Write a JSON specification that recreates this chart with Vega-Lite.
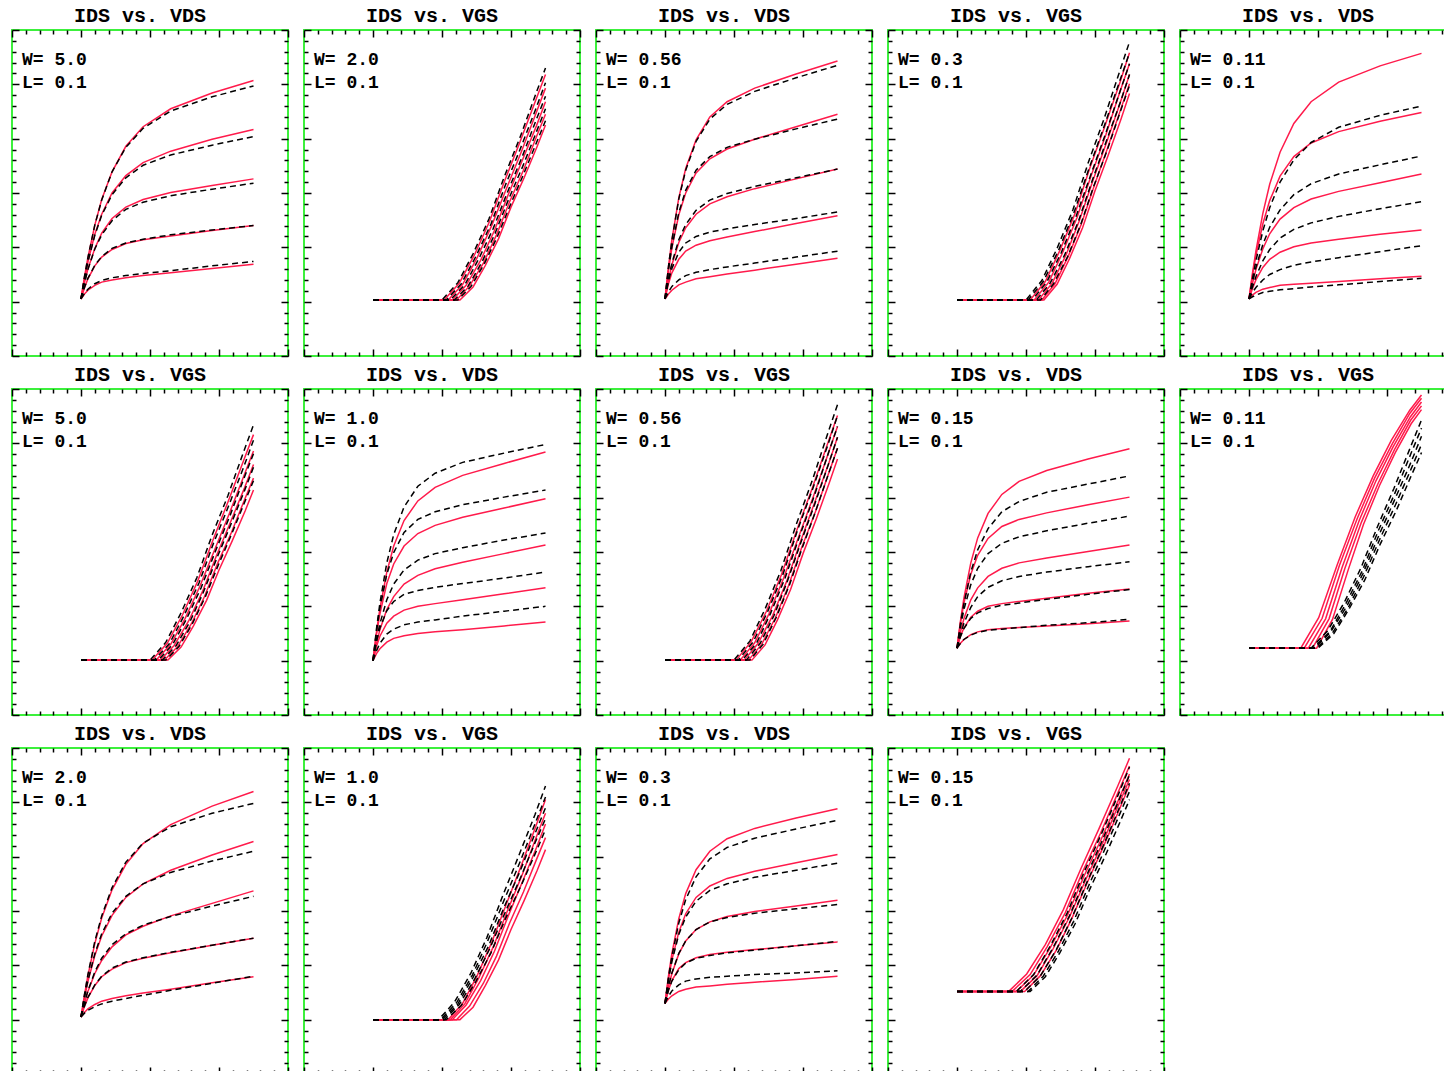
{
"$schema": "https://vega.github.io/schema/vega-lite/v6.json",
"padding": {"left": 10, "top": 5, "right": 0, "bottom": 0},
"background": "#ffffff",
"columns": 5,
"spacing": {"row": 6, "column": 12},
"config": {
 "view": {"continuousWidth": 276, "continuousHeight": 326, "stroke": "#3cf03c", "strokeWidth": 2},
 "axis": {"labels": false, "domain": false, "grid": false, "tickColor": "#000000", "tickWidth": 1.5},
 "title": {"font": "Liberation Mono", "fontSize": 20, "fontWeight": "bold", "color": "#000000", "baseline": "alphabetic", "offset": 3, "dx": -10},
 "text": {"font": "Liberation Mono", "fontSize": 18, "fontWeight": "bold", "align": "left", "baseline": "alphabetic", "color": "#000000"}
},
"datasets": {
"p1": [
{"c":1,"x":0,"s":0.05,"m":0.05},{"c":1,"x":0.05,"s":0.45,"m":0.46},{"c":1,"x":0.1,"s":0.81,"m":0.81},{"c":1,"x":0.2,"s":1.41,"m":1.41},{"c":1,"x":0.3,"s":1.88,"m":1.87},{"c":1,"x":0.45,"s":2.39,"m":2.39},{"c":1,"x":0.65,"s":2.86,"m":2.84},{"c":1,"x":0.9,"s":3.22,"m":3.19},{"c":1,"x":1.3,"s":3.55,"m":3.51},{"c":1,"x":1.9,"s":3.84,"m":3.77},{"c":1,"x":2.5,"s":4.07,"m":3.97},
{"c":2,"x":0,"s":0.05,"m":0.05},{"c":2,"x":0.05,"s":0.42,"m":0.41},{"c":2,"x":0.1,"s":0.73,"m":0.73},{"c":2,"x":0.2,"s":1.24,"m":1.22},{"c":2,"x":0.3,"s":1.61,"m":1.59},{"c":2,"x":0.45,"s":2.0,"m":1.97},{"c":2,"x":0.65,"s":2.32,"m":2.28},{"c":2,"x":0.9,"s":2.56,"m":2.51},{"c":2,"x":1.3,"s":2.77,"m":2.7},{"c":2,"x":1.9,"s":2.99,"m":2.88},{"c":2,"x":2.5,"s":3.17,"m":3.04},
{"c":3,"x":0,"s":0.05,"m":0.05},{"c":3,"x":0.05,"s":0.35,"m":0.34},{"c":3,"x":0.1,"s":0.6,"m":0.59},{"c":3,"x":0.2,"s":0.98,"m":0.97},{"c":3,"x":0.3,"s":1.26,"m":1.23},{"c":3,"x":0.45,"s":1.53,"m":1.49},{"c":3,"x":0.65,"s":1.74,"m":1.7},{"c":3,"x":0.9,"s":1.88,"m":1.83},{"c":3,"x":1.3,"s":2.01,"m":1.95},{"c":3,"x":1.9,"s":2.14,"m":2.07},{"c":3,"x":2.5,"s":2.26,"m":2.18},
{"c":4,"x":0,"s":0.05,"m":0.05},{"c":4,"x":0.05,"s":0.25,"m":0.26},{"c":4,"x":0.1,"s":0.42,"m":0.43},{"c":4,"x":0.2,"s":0.66,"m":0.67},{"c":4,"x":0.3,"s":0.82,"m":0.83},{"c":4,"x":0.45,"s":0.96,"m":0.98},{"c":4,"x":0.65,"s":1.07,"m":1.08},{"c":4,"x":0.9,"s":1.14,"m":1.15},{"c":4,"x":1.3,"s":1.21,"m":1.23},{"c":4,"x":1.9,"s":1.31,"m":1.32},{"c":4,"x":2.5,"s":1.4,"m":1.4},
{"c":5,"x":0,"s":0.05,"m":0.05},{"c":5,"x":0.05,"s":0.14,"m":0.15},{"c":5,"x":0.1,"s":0.21,"m":0.23},{"c":5,"x":0.2,"s":0.3,"m":0.33},{"c":5,"x":0.3,"s":0.36,"m":0.39},{"c":5,"x":0.45,"s":0.4,"m":0.44},{"c":5,"x":0.65,"s":0.44,"m":0.48},{"c":5,"x":0.9,"s":0.48,"m":0.52},{"c":5,"x":1.3,"s":0.53,"m":0.57},{"c":5,"x":1.9,"s":0.61,"m":0.66},{"c":5,"x":2.5,"s":0.69,"m":0.74}
],
"p3": [
{"c":1,"x":0,"s":0.05,"m":0.05},{"c":1,"x":0.05,"s":0.64,"m":0.64},{"c":1,"x":0.1,"s":1.14,"m":1.13},{"c":1,"x":0.2,"s":1.91,"m":1.89},{"c":1,"x":0.3,"s":2.45,"m":2.42},{"c":1,"x":0.45,"s":2.98,"m":2.95},{"c":1,"x":0.65,"s":3.4,"m":3.36},{"c":1,"x":0.9,"s":3.68,"m":3.63},{"c":1,"x":1.3,"s":3.93,"m":3.87},{"c":1,"x":1.9,"s":4.19,"m":4.12},{"c":1,"x":2.5,"s":4.43,"m":4.35},
{"c":2,"x":0,"s":0.05,"m":0.05},{"c":2,"x":0.05,"s":0.57,"m":0.59},{"c":2,"x":0.1,"s":0.99,"m":1.01},{"c":2,"x":0.2,"s":1.6,"m":1.64},{"c":2,"x":0.3,"s":2.0,"m":2.05},{"c":2,"x":0.45,"s":2.37,"m":2.42},{"c":2,"x":0.65,"s":2.63,"m":2.67},{"c":2,"x":0.9,"s":2.81,"m":2.84},{"c":2,"x":1.3,"s":2.99,"m":2.99},{"c":2,"x":1.9,"s":3.22,"m":3.18},{"c":2,"x":2.5,"s":3.45,"m":3.36},
{"c":3,"x":0,"s":0.05,"m":0.05},{"c":3,"x":0.05,"s":0.4,"m":0.42},{"c":3,"x":0.1,"s":0.68,"m":0.71},{"c":3,"x":0.2,"s":1.09,"m":1.14},{"c":3,"x":0.3,"s":1.36,"m":1.42},{"c":3,"x":0.45,"s":1.61,"m":1.68},{"c":3,"x":0.65,"s":1.8,"m":1.87},{"c":3,"x":0.9,"s":1.93,"m":1.99},{"c":3,"x":1.3,"s":2.08,"m":2.12},{"c":3,"x":1.9,"s":2.26,"m":2.28},{"c":3,"x":2.5,"s":2.44,"m":2.44},
{"c":4,"x":0,"s":0.05,"m":0.05},{"c":4,"x":0.05,"s":0.33,"m":0.38},{"c":4,"x":0.1,"s":0.53,"m":0.61},{"c":4,"x":0.2,"s":0.78,"m":0.91},{"c":4,"x":0.3,"s":0.93,"m":1.08},{"c":4,"x":0.45,"s":1.04,"m":1.2},{"c":4,"x":0.65,"s":1.12,"m":1.28},{"c":4,"x":0.9,"s":1.19,"m":1.34},{"c":4,"x":1.3,"s":1.29,"m":1.42},{"c":4,"x":1.9,"s":1.44,"m":1.53},{"c":4,"x":2.5,"s":1.58,"m":1.65},
{"c":5,"x":0,"s":0.05,"m":0.05},{"c":5,"x":0.05,"s":0.14,"m":0.18},{"c":5,"x":0.1,"s":0.21,"m":0.28},{"c":5,"x":0.2,"s":0.31,"m":0.4},{"c":5,"x":0.3,"s":0.36,"m":0.48},{"c":5,"x":0.45,"s":0.42,"m":0.54},{"c":5,"x":0.65,"s":0.46,"m":0.59},{"c":5,"x":0.9,"s":0.51,"m":0.64},{"c":5,"x":1.3,"s":0.58,"m":0.71},{"c":5,"x":1.9,"s":0.69,"m":0.82},{"c":5,"x":2.5,"s":0.8,"m":0.93}
],
"p5": [
{"c":1,"x":0,"s":0.05,"m":0.05},{"c":1,"x":0.05,"s":0.52,"m":0.42},{"c":1,"x":0.1,"s":0.93,"m":0.75},{"c":1,"x":0.2,"s":1.62,"m":1.3},{"c":1,"x":0.3,"s":2.16,"m":1.73},{"c":1,"x":0.45,"s":2.75,"m":2.2},{"c":1,"x":0.65,"s":3.28,"m":2.61},{"c":1,"x":0.9,"s":3.68,"m":2.93},{"c":1,"x":1.3,"s":4.04,"m":3.21},{"c":1,"x":1.9,"s":4.34,"m":3.43},{"c":1,"x":2.5,"s":4.57,"m":3.6},
{"c":2,"x":0,"s":0.05,"m":0.05},{"c":2,"x":0.05,"s":0.48,"m":0.36},{"c":2,"x":0.1,"s":0.85,"m":0.63},{"c":2,"x":0.2,"s":1.43,"m":1.05},{"c":2,"x":0.3,"s":1.86,"m":1.37},{"c":2,"x":0.45,"s":2.31,"m":1.69},{"c":2,"x":0.65,"s":2.67,"m":1.97},{"c":2,"x":0.9,"s":2.92,"m":2.17},{"c":2,"x":1.3,"s":3.13,"m":2.35},{"c":2,"x":1.9,"s":3.32,"m":2.52},{"c":2,"x":2.5,"s":3.48,"m":2.68},
{"c":3,"x":0,"s":0.05,"m":0.05},{"c":3,"x":0.05,"s":0.34,"m":0.27},{"c":3,"x":0.1,"s":0.59,"m":0.46},{"c":3,"x":0.2,"s":0.97,"m":0.75},{"c":3,"x":0.3,"s":1.25,"m":0.96},{"c":3,"x":0.45,"s":1.52,"m":1.17},{"c":3,"x":0.65,"s":1.73,"m":1.33},{"c":3,"x":0.9,"s":1.89,"m":1.45},{"c":3,"x":1.3,"s":2.03,"m":1.57},{"c":3,"x":1.9,"s":2.19,"m":1.71},{"c":3,"x":2.5,"s":2.35,"m":1.84},
{"c":4,"x":0,"s":0.05,"m":0.05},{"c":4,"x":0.05,"s":0.24,"m":0.17},{"c":4,"x":0.1,"s":0.4,"m":0.26},{"c":4,"x":0.2,"s":0.63,"m":0.4},{"c":4,"x":0.3,"s":0.78,"m":0.5},{"c":4,"x":0.45,"s":0.91,"m":0.59},{"c":4,"x":0.65,"s":1.01,"m":0.67},{"c":4,"x":0.9,"s":1.08,"m":0.73},{"c":4,"x":1.3,"s":1.15,"m":0.81},{"c":4,"x":1.9,"s":1.24,"m":0.92},{"c":4,"x":2.5,"s":1.32,"m":1.03},
{"c":5,"x":0,"s":0.05,"m":0.05},{"c":5,"x":0.05,"s":0.12,"m":0.09},{"c":5,"x":0.1,"s":0.17,"m":0.12},{"c":5,"x":0.2,"s":0.23,"m":0.17},{"c":5,"x":0.3,"s":0.26,"m":0.19},{"c":5,"x":0.45,"s":0.3,"m":0.22},{"c":5,"x":0.65,"s":0.32,"m":0.24},{"c":5,"x":0.9,"s":0.34,"m":0.27},{"c":5,"x":1.3,"s":0.37,"m":0.31},{"c":5,"x":1.9,"s":0.42,"m":0.37},{"c":5,"x":2.5,"s":0.47,"m":0.43}
],
"p7": [
{"c":1,"x":0,"s":0,"m":0},{"c":1,"x":0.05,"s":0.52,"m":0.58},{"c":1,"x":0.1,"s":0.96,"m":1.06},{"c":1,"x":0.2,"s":1.63,"m":1.8},{"c":1,"x":0.3,"s":2.11,"m":2.32},{"c":1,"x":0.45,"s":2.58,"m":2.83},{"c":1,"x":0.65,"s":2.94,"m":3.21},{"c":1,"x":0.9,"s":3.19,"m":3.45},{"c":1,"x":1.3,"s":3.41,"m":3.65},{"c":1,"x":1.9,"s":3.63,"m":3.82},{"c":1,"x":2.5,"s":3.84,"m":3.98},
{"c":2,"x":0,"s":0,"m":0},{"c":2,"x":0.05,"s":0.48,"m":0.54},{"c":2,"x":0.1,"s":0.86,"m":0.97},{"c":2,"x":0.2,"s":1.42,"m":1.59},{"c":2,"x":0.3,"s":1.78,"m":1.99},{"c":2,"x":0.45,"s":2.11,"m":2.36},{"c":2,"x":0.65,"s":2.34,"m":2.6},{"c":2,"x":0.9,"s":2.49,"m":2.74},{"c":2,"x":1.3,"s":2.64,"m":2.87},{"c":2,"x":1.9,"s":2.81,"m":3.01},{"c":2,"x":2.5,"s":2.98,"m":3.14},
{"c":3,"x":0,"s":0,"m":0},{"c":3,"x":0.05,"s":0.31,"m":0.38},{"c":3,"x":0.1,"s":0.57,"m":0.68},{"c":3,"x":0.2,"s":0.94,"m":1.12},{"c":3,"x":0.3,"s":1.18,"m":1.41},{"c":3,"x":0.45,"s":1.41,"m":1.67},{"c":3,"x":0.65,"s":1.57,"m":1.85},{"c":3,"x":0.9,"s":1.69,"m":1.97},{"c":3,"x":1.3,"s":1.81,"m":2.08},{"c":3,"x":1.9,"s":1.97,"m":2.22},{"c":3,"x":2.5,"s":2.13,"m":2.35},
{"c":4,"x":0,"s":0,"m":0},{"c":4,"x":0.05,"s":0.26,"m":0.35},{"c":4,"x":0.1,"s":0.45,"m":0.6},{"c":4,"x":0.2,"s":0.69,"m":0.92},{"c":4,"x":0.3,"s":0.82,"m":1.09},{"c":4,"x":0.45,"s":0.93,"m":1.22},{"c":4,"x":0.65,"s":1.0,"m":1.29},{"c":4,"x":0.9,"s":1.05,"m":1.35},{"c":4,"x":1.3,"s":1.12,"m":1.42},{"c":4,"x":1.9,"s":1.23,"m":1.52},{"c":4,"x":2.5,"s":1.34,"m":1.63},
{"c":5,"x":0,"s":0,"m":0},{"c":5,"x":0.05,"s":0.13,"m":0.18},{"c":5,"x":0.1,"s":0.22,"m":0.32},{"c":5,"x":0.2,"s":0.34,"m":0.49},{"c":5,"x":0.3,"s":0.41,"m":0.58},{"c":5,"x":0.45,"s":0.46,"m":0.66},{"c":5,"x":0.65,"s":0.5,"m":0.71},{"c":5,"x":0.9,"s":0.53,"m":0.75},{"c":5,"x":1.3,"s":0.57,"m":0.82},{"c":5,"x":1.9,"s":0.64,"m":0.91},{"c":5,"x":2.5,"s":0.71,"m":1.0}
],
"p9": [
{"c":1,"x":0,"s":0.23,"m":0.23},{"c":1,"x":0.05,"s":0.73,"m":0.68},{"c":1,"x":0.1,"s":1.15,"m":1.05},{"c":1,"x":0.2,"s":1.8,"m":1.63},{"c":1,"x":0.3,"s":2.26,"m":2.04},{"c":1,"x":0.45,"s":2.71,"m":2.43},{"c":1,"x":0.65,"s":3.06,"m":2.74},{"c":1,"x":0.9,"s":3.3,"m":2.93},{"c":1,"x":1.3,"s":3.5,"m":3.1},{"c":1,"x":1.9,"s":3.71,"m":3.25},{"c":1,"x":2.5,"s":3.9,"m":3.4},
{"c":2,"x":0,"s":0.23,"m":0.23},{"c":2,"x":0.05,"s":0.69,"m":0.62},{"c":2,"x":0.1,"s":1.06,"m":0.94},{"c":2,"x":0.2,"s":1.59,"m":1.4},{"c":2,"x":0.3,"s":1.94,"m":1.7},{"c":2,"x":0.45,"s":2.25,"m":1.97},{"c":2,"x":0.65,"s":2.47,"m":2.16},{"c":2,"x":0.9,"s":2.6,"m":2.28},{"c":2,"x":1.3,"s":2.72,"m":2.39},{"c":2,"x":1.9,"s":2.87,"m":2.53},{"c":2,"x":2.5,"s":3.01,"m":2.66},
{"c":3,"x":0,"s":0.23,"m":0.23},{"c":3,"x":0.05,"s":0.53,"m":0.48},{"c":3,"x":0.1,"s":0.77,"m":0.69},{"c":3,"x":0.2,"s":1.12,"m":0.98},{"c":3,"x":0.3,"s":1.34,"m":1.18},{"c":3,"x":0.45,"s":1.55,"m":1.35},{"c":3,"x":0.65,"s":1.7,"m":1.47},{"c":3,"x":0.9,"s":1.8,"m":1.55},{"c":3,"x":1.3,"s":1.89,"m":1.63},{"c":3,"x":1.9,"s":2.01,"m":1.73},{"c":3,"x":2.5,"s":2.13,"m":1.82},
{"c":4,"x":0,"s":0.23,"m":0.23},{"c":4,"x":0.05,"s":0.45,"m":0.44},{"c":4,"x":0.1,"s":0.6,"m":0.59},{"c":4,"x":0.2,"s":0.8,"m":0.78},{"c":4,"x":0.3,"s":0.91,"m":0.88},{"c":4,"x":0.45,"s":1.0,"m":0.96},{"c":4,"x":0.65,"s":1.05,"m":1.02},{"c":4,"x":0.9,"s":1.09,"m":1.06},{"c":4,"x":1.3,"s":1.15,"m":1.13},{"c":4,"x":1.9,"s":1.24,"m":1.22},{"c":4,"x":2.5,"s":1.32,"m":1.31},
{"c":5,"x":0,"s":0.23,"m":0.23},{"c":5,"x":0.05,"s":0.32,"m":0.32},{"c":5,"x":0.1,"s":0.39,"m":0.39},{"c":5,"x":0.2,"s":0.48,"m":0.47},{"c":5,"x":0.3,"s":0.53,"m":0.52},{"c":5,"x":0.45,"s":0.57,"m":0.56},{"c":5,"x":0.65,"s":0.59,"m":0.58},{"c":5,"x":0.9,"s":0.61,"m":0.61},{"c":5,"x":1.3,"s":0.64,"m":0.65},{"c":5,"x":1.9,"s":0.68,"m":0.7},{"c":5,"x":2.5,"s":0.73,"m":0.76}
],
"p11": [
{"c":1,"x":0,"s":0.05,"m":0.05},{"c":1,"x":0.05,"s":0.45,"m":0.46},{"c":1,"x":0.1,"s":0.81,"m":0.83},{"c":1,"x":0.2,"s":1.4,"m":1.44},{"c":1,"x":0.3,"s":1.87,"m":1.91},{"c":1,"x":0.45,"s":2.39,"m":2.43},{"c":1,"x":0.65,"s":2.86,"m":2.9},{"c":1,"x":0.9,"s":3.24,"m":3.25},{"c":1,"x":1.3,"s":3.59,"m":3.55},{"c":1,"x":1.9,"s":3.93,"m":3.8},{"c":1,"x":2.5,"s":4.2,"m":3.98},
{"c":2,"x":0,"s":0.05,"m":0.05},{"c":2,"x":0.05,"s":0.4,"m":0.41},{"c":2,"x":0.1,"s":0.7,"m":0.72},{"c":2,"x":0.2,"s":1.18,"m":1.21},{"c":2,"x":0.3,"s":1.54,"m":1.58},{"c":2,"x":0.45,"s":1.92,"m":1.96},{"c":2,"x":0.65,"s":2.25,"m":2.27},{"c":2,"x":0.9,"s":2.5,"m":2.5},{"c":2,"x":1.3,"s":2.75,"m":2.71},{"c":2,"x":1.9,"s":3.03,"m":2.92},{"c":2,"x":2.5,"s":3.28,"m":3.1},
{"c":3,"x":0,"s":0.05,"m":0.05},{"c":3,"x":0.05,"s":0.3,"m":0.31},{"c":3,"x":0.1,"s":0.52,"m":0.53},{"c":3,"x":0.2,"s":0.85,"m":0.88},{"c":3,"x":0.3,"s":1.09,"m":1.13},{"c":3,"x":0.45,"s":1.34,"m":1.38},{"c":3,"x":0.65,"s":1.56,"m":1.58},{"c":3,"x":0.9,"s":1.72,"m":1.74},{"c":3,"x":1.3,"s":1.91,"m":1.9},{"c":3,"x":1.9,"s":2.14,"m":2.09},{"c":3,"x":2.5,"s":2.37,"m":2.27},
{"c":4,"x":0,"s":0.05,"m":0.05},{"c":4,"x":0.05,"s":0.24,"m":0.25},{"c":4,"x":0.1,"s":0.4,"m":0.41},{"c":4,"x":0.2,"s":0.63,"m":0.64},{"c":4,"x":0.3,"s":0.79,"m":0.8},{"c":4,"x":0.45,"s":0.93,"m":0.95},{"c":4,"x":0.65,"s":1.05,"m":1.06},{"c":4,"x":0.9,"s":1.13,"m":1.14},{"c":4,"x":1.3,"s":1.23,"m":1.24},{"c":4,"x":1.9,"s":1.37,"m":1.37},{"c":4,"x":2.5,"s":1.5,"m":1.5},
{"c":5,"x":0,"s":0.05,"m":0.05},{"c":5,"x":0.05,"s":0.13,"m":0.12},{"c":5,"x":0.1,"s":0.2,"m":0.17},{"c":5,"x":0.2,"s":0.28,"m":0.24},{"c":5,"x":0.3,"s":0.34,"m":0.29},{"c":5,"x":0.45,"s":0.39,"m":0.34},{"c":5,"x":0.65,"s":0.44,"m":0.39},{"c":5,"x":0.9,"s":0.49,"m":0.45},{"c":5,"x":1.3,"s":0.56,"m":0.54},{"c":5,"x":1.9,"s":0.68,"m":0.67},{"c":5,"x":2.5,"s":0.79,"m":0.8}
],
"p13": [
{"c":1,"x":0,"s":0.3,"m":0.3},{"c":1,"x":0.05,"s":0.8,"m":0.78},{"c":1,"x":0.1,"s":1.22,"m":1.17},{"c":1,"x":0.2,"s":1.86,"m":1.78},{"c":1,"x":0.3,"s":2.32,"m":2.21},{"c":1,"x":0.45,"s":2.76,"m":2.63},{"c":1,"x":0.65,"s":3.1,"m":2.96},{"c":1,"x":0.9,"s":3.33,"m":3.17},{"c":1,"x":1.3,"s":3.52,"m":3.34},{"c":1,"x":1.9,"s":3.71,"m":3.51},{"c":1,"x":2.5,"s":3.88,"m":3.67},
{"c":2,"x":0,"s":0.3,"m":0.3},{"c":2,"x":0.05,"s":0.74,"m":0.73},{"c":2,"x":0.1,"s":1.1,"m":1.07},{"c":2,"x":0.2,"s":1.61,"m":1.57},{"c":2,"x":0.3,"s":1.95,"m":1.89},{"c":2,"x":0.45,"s":2.25,"m":2.18},{"c":2,"x":0.65,"s":2.46,"m":2.38},{"c":2,"x":0.9,"s":2.6,"m":2.5},{"c":2,"x":1.3,"s":2.73,"m":2.62},{"c":2,"x":1.9,"s":2.89,"m":2.75},{"c":2,"x":2.5,"s":3.04,"m":2.88},
{"c":3,"x":0,"s":0.3,"m":0.3},{"c":3,"x":0.05,"s":0.61,"m":0.61},{"c":3,"x":0.1,"s":0.85,"m":0.86},{"c":3,"x":0.2,"s":1.21,"m":1.22},{"c":3,"x":0.3,"s":1.45,"m":1.45},{"c":3,"x":0.45,"s":1.66,"m":1.66},{"c":3,"x":0.65,"s":1.8,"m":1.8},{"c":3,"x":0.9,"s":1.9,"m":1.88},{"c":3,"x":1.3,"s":1.99,"m":1.96},{"c":3,"x":1.9,"s":2.09,"m":2.04},{"c":3,"x":2.5,"s":2.2,"m":2.12},
{"c":4,"x":0,"s":0.3,"m":0.3},{"c":4,"x":0.05,"s":0.54,"m":0.54},{"c":4,"x":0.1,"s":0.72,"m":0.71},{"c":4,"x":0.2,"s":0.94,"m":0.92},{"c":4,"x":0.3,"s":1.05,"m":1.04},{"c":4,"x":0.45,"s":1.14,"m":1.13},{"c":4,"x":0.65,"s":1.2,"m":1.18},{"c":4,"x":0.9,"s":1.24,"m":1.23},{"c":4,"x":1.3,"s":1.29,"m":1.28},{"c":4,"x":1.9,"s":1.36,"m":1.36},{"c":4,"x":2.5,"s":1.43,"m":1.44},
{"c":5,"x":0,"s":0.3,"m":0.3},{"c":5,"x":0.05,"s":0.38,"m":0.43},{"c":5,"x":0.1,"s":0.44,"m":0.53},{"c":5,"x":0.2,"s":0.52,"m":0.64},{"c":5,"x":0.3,"s":0.56,"m":0.71},{"c":5,"x":0.45,"s":0.6,"m":0.75},{"c":5,"x":0.65,"s":0.62,"m":0.78},{"c":5,"x":0.9,"s":0.65,"m":0.8},{"c":5,"x":1.3,"s":0.69,"m":0.83},{"c":5,"x":1.9,"s":0.74,"m":0.86},{"c":5,"x":2.5,"s":0.8,"m":0.9}
],
"p2": [
{"c":1,"x":0,"s":0.03},{"c":1,"x":1.03,"s":0.03},{"c":1,"x":1.25,"s":0.34},{"c":1,"x":1.47,"s":0.86},{"c":1,"x":1.69,"s":1.48},{"c":1,"x":1.91,"s":2.23},{"c":1,"x":2.13,"s":2.94},{"c":1,"x":2.35,"s":3.68},{"c":1,"x":2.5,"s":4.18},
{"c":2,"x":0,"s":0.03},{"c":2,"x":1.09,"s":0.03},{"c":2,"x":1.3,"s":0.32},{"c":2,"x":1.51,"s":0.81},{"c":2,"x":1.72,"s":1.4},{"c":2,"x":1.94,"s":2.1},{"c":2,"x":2.15,"s":2.76},{"c":2,"x":2.36,"s":3.46},{"c":2,"x":2.5,"s":3.93},
{"c":3,"x":0,"s":0.03},{"c":3,"x":1.15,"s":0.03},{"c":3,"x":1.35,"s":0.3},{"c":3,"x":1.56,"s":0.76},{"c":3,"x":1.76,"s":1.31},{"c":3,"x":1.96,"s":1.97},{"c":3,"x":2.16,"s":2.59},{"c":3,"x":2.37,"s":3.24},{"c":3,"x":2.5,"s":3.68},
{"c":4,"x":0,"s":0.03},{"c":4,"x":1.21,"s":0.03},{"c":4,"x":1.4,"s":0.29},{"c":4,"x":1.6,"s":0.71},{"c":4,"x":1.79,"s":1.23},{"c":4,"x":1.98,"s":1.84},{"c":4,"x":2.18,"s":2.42},{"c":4,"x":2.37,"s":3.04},{"c":4,"x":2.5,"s":3.45},
{"c":5,"x":0,"s":0.03},{"c":5,"x":1.26,"s":0.03},{"c":5,"x":1.45,"s":0.27},{"c":5,"x":1.63,"s":0.67},{"c":5,"x":1.82,"s":1.16},{"c":5,"x":2.0,"s":1.74},{"c":5,"x":2.19,"s":2.28},{"c":5,"x":2.38,"s":2.86},{"c":5,"x":2.5,"s":3.25},
{"c":6,"x":0,"m":0.03},{"c":6,"x":1.0,"m":0.03},{"c":6,"x":1.23,"m":0.35},{"c":6,"x":1.45,"m":0.88},{"c":6,"x":1.68,"m":1.52},{"c":6,"x":1.9,"m":2.29},{"c":6,"x":2.13,"m":3.02},{"c":6,"x":2.35,"m":3.79},{"c":6,"x":2.5,"m":4.3},
{"c":7,"x":0,"m":0.03},{"c":7,"x":1.06,"m":0.03},{"c":7,"x":1.28,"m":0.33},{"c":7,"x":1.49,"m":0.83},{"c":7,"x":1.71,"m":1.43},{"c":7,"x":1.92,"m":2.15},{"c":7,"x":2.14,"m":2.83},{"c":7,"x":2.36,"m":3.55},{"c":7,"x":2.5,"m":4.03},
{"c":8,"x":0,"m":0.03},{"c":8,"x":1.12,"m":0.03},{"c":8,"x":1.33,"m":0.31},{"c":8,"x":1.53,"m":0.78},{"c":8,"x":1.74,"m":1.34},{"c":8,"x":1.95,"m":2.02},{"c":8,"x":2.16,"m":2.66},{"c":8,"x":2.36,"m":3.33},{"c":8,"x":2.5,"m":3.78},
{"c":9,"x":0,"m":0.03},{"c":9,"x":1.18,"m":0.03},{"c":9,"x":1.38,"m":0.29},{"c":9,"x":1.58,"m":0.73},{"c":9,"x":1.77,"m":1.26},{"c":9,"x":1.97,"m":1.9},{"c":9,"x":2.17,"m":2.49},{"c":9,"x":2.37,"m":3.13},{"c":9,"x":2.5,"m":3.55},
{"c":10,"x":0,"m":0.03},{"c":10,"x":1.23,"m":0.03},{"c":10,"x":1.42,"m":0.28},{"c":10,"x":1.61,"m":0.69},{"c":10,"x":1.8,"m":1.19},{"c":10,"x":1.99,"m":1.78},{"c":10,"x":2.18,"m":2.34},{"c":10,"x":2.37,"m":2.93},{"c":10,"x":2.5,"m":3.33}
],
"p4": [
{"c":1,"x":0,"s":0.03},{"c":1,"x":1.06,"s":0.03},{"c":1,"x":1.28,"s":0.37},{"c":1,"x":1.49,"s":0.94},{"c":1,"x":1.71,"s":1.62},{"c":1,"x":1.92,"s":2.44},{"c":1,"x":2.14,"s":3.22},{"c":1,"x":2.36,"s":4.03},{"c":1,"x":2.5,"s":4.58},
{"c":2,"x":0,"s":0.03},{"c":2,"x":1.12,"s":0.03},{"c":2,"x":1.33,"s":0.36},{"c":2,"x":1.53,"s":0.9},{"c":2,"x":1.74,"s":1.55},{"c":2,"x":1.95,"s":2.34},{"c":2,"x":2.16,"s":3.08},{"c":2,"x":2.36,"s":3.86},{"c":2,"x":2.5,"s":4.38},
{"c":3,"x":0,"s":0.03},{"c":3,"x":1.18,"s":0.03},{"c":3,"x":1.38,"s":0.34},{"c":3,"x":1.58,"s":0.86},{"c":3,"x":1.77,"s":1.48},{"c":3,"x":1.97,"s":2.23},{"c":3,"x":2.17,"s":2.94},{"c":3,"x":2.37,"s":3.68},{"c":3,"x":2.5,"s":4.18},
{"c":4,"x":0,"s":0.03},{"c":4,"x":1.23,"s":0.03},{"c":4,"x":1.42,"s":0.33},{"c":4,"x":1.61,"s":0.83},{"c":4,"x":1.8,"s":1.42},{"c":4,"x":1.99,"s":2.14},{"c":4,"x":2.18,"s":2.82},{"c":4,"x":2.37,"s":3.53},{"c":4,"x":2.5,"s":4.01},
{"c":5,"x":0,"s":0.03},{"c":5,"x":1.26,"s":0.03},{"c":5,"x":1.45,"s":0.32},{"c":5,"x":1.63,"s":0.79},{"c":5,"x":1.82,"s":1.36},{"c":5,"x":2.0,"s":2.04},{"c":5,"x":2.19,"s":2.69},{"c":5,"x":2.38,"s":3.37},{"c":5,"x":2.5,"s":3.83},
{"c":6,"x":0,"m":0.03},{"c":6,"x":1.0,"m":0.03},{"c":6,"x":1.23,"m":0.39},{"c":6,"x":1.45,"m":0.98},{"c":6,"x":1.68,"m":1.69},{"c":6,"x":1.9,"m":2.55},{"c":6,"x":2.13,"m":3.36},{"c":6,"x":2.35,"m":4.21},{"c":6,"x":2.5,"m":4.78},
{"c":7,"x":0,"m":0.03},{"c":7,"x":1.03,"m":0.03},{"c":7,"x":1.25,"m":0.37},{"c":7,"x":1.47,"m":0.94},{"c":7,"x":1.69,"m":1.62},{"c":7,"x":1.91,"m":2.44},{"c":7,"x":2.13,"m":3.22},{"c":7,"x":2.35,"m":4.03},{"c":7,"x":2.5,"m":4.58},
{"c":8,"x":0,"m":0.03},{"c":8,"x":1.09,"m":0.03},{"c":8,"x":1.3,"m":0.36},{"c":8,"x":1.51,"m":0.9},{"c":8,"x":1.72,"m":1.55},{"c":8,"x":1.94,"m":2.34},{"c":8,"x":2.15,"m":3.08},{"c":8,"x":2.36,"m":3.86},{"c":8,"x":2.5,"m":4.38},
{"c":9,"x":0,"m":0.03},{"c":9,"x":1.15,"m":0.03},{"c":9,"x":1.35,"m":0.34},{"c":9,"x":1.56,"m":0.86},{"c":9,"x":1.76,"m":1.48},{"c":9,"x":1.96,"m":2.23},{"c":9,"x":2.16,"m":2.94},{"c":9,"x":2.37,"m":3.68},{"c":9,"x":2.5,"m":4.18},
{"c":10,"x":0,"m":0.03},{"c":10,"x":1.21,"m":0.03},{"c":10,"x":1.4,"m":0.33},{"c":10,"x":1.6,"m":0.82},{"c":10,"x":1.79,"m":1.41},{"c":10,"x":1.98,"m":2.12},{"c":10,"x":2.18,"m":2.8},{"c":10,"x":2.37,"m":3.51},{"c":10,"x":2.5,"m":3.98}
],
"p6": [
{"c":1,"x":0,"s":0.01},{"c":1,"x":1.03,"s":0.01},{"c":1,"x":1.25,"s":0.32},{"c":1,"x":1.47,"s":0.84},{"c":1,"x":1.69,"s":1.46},{"c":1,"x":1.91,"s":2.21},{"c":1,"x":2.13,"s":2.92},{"c":1,"x":2.35,"s":3.66},{"c":1,"x":2.5,"s":4.16},
{"c":2,"x":0,"s":0.01},{"c":2,"x":1.09,"s":0.01},{"c":2,"x":1.3,"s":0.3},{"c":2,"x":1.51,"s":0.78},{"c":2,"x":1.72,"s":1.36},{"c":2,"x":1.94,"s":2.05},{"c":2,"x":2.15,"s":2.71},{"c":2,"x":2.36,"s":3.4},{"c":2,"x":2.5,"s":3.86},
{"c":3,"x":0,"s":0.01},{"c":3,"x":1.15,"s":0.01},{"c":3,"x":1.35,"s":0.28},{"c":3,"x":1.56,"s":0.73},{"c":3,"x":1.76,"s":1.27},{"c":3,"x":1.96,"s":1.92},{"c":3,"x":2.16,"s":2.53},{"c":3,"x":2.37,"s":3.18},{"c":3,"x":2.5,"s":3.61},
{"c":4,"x":0,"s":0.01},{"c":4,"x":1.21,"s":0.01},{"c":4,"x":1.4,"s":0.26},{"c":4,"x":1.6,"s":0.68},{"c":4,"x":1.79,"s":1.18},{"c":4,"x":1.98,"s":1.79},{"c":4,"x":2.18,"s":2.36},{"c":4,"x":2.37,"s":2.96},{"c":4,"x":2.5,"s":3.36},
{"c":5,"x":0,"s":0.01},{"c":5,"x":1.26,"s":0.01},{"c":5,"x":1.45,"s":0.25},{"c":5,"x":1.63,"s":0.64},{"c":5,"x":1.82,"s":1.11},{"c":5,"x":2.0,"s":1.67},{"c":5,"x":2.19,"s":2.2},{"c":5,"x":2.38,"s":2.76},{"c":5,"x":2.5,"s":3.14},
{"c":6,"x":0,"m":0.01},{"c":6,"x":1.0,"m":0.01},{"c":6,"x":1.23,"m":0.34},{"c":6,"x":1.45,"m":0.88},{"c":6,"x":1.68,"m":1.53},{"c":6,"x":1.9,"m":2.31},{"c":6,"x":2.13,"m":3.04},{"c":6,"x":2.35,"m":3.82},{"c":6,"x":2.5,"m":4.34},
{"c":7,"x":0,"m":0.01},{"c":7,"x":1.06,"m":0.01},{"c":7,"x":1.28,"m":0.31},{"c":7,"x":1.49,"m":0.82},{"c":7,"x":1.71,"m":1.43},{"c":7,"x":1.92,"m":2.16},{"c":7,"x":2.14,"m":2.85},{"c":7,"x":2.36,"m":3.57},{"c":7,"x":2.5,"m":4.06},
{"c":8,"x":0,"m":0.01},{"c":8,"x":1.12,"m":0.01},{"c":8,"x":1.33,"m":0.3},{"c":8,"x":1.53,"m":0.77},{"c":8,"x":1.74,"m":1.34},{"c":8,"x":1.95,"m":2.02},{"c":8,"x":2.16,"m":2.67},{"c":8,"x":2.36,"m":3.35},{"c":8,"x":2.5,"m":3.81},
{"c":9,"x":0,"m":0.01},{"c":9,"x":1.18,"m":0.01},{"c":9,"x":1.38,"m":0.28},{"c":9,"x":1.58,"m":0.72},{"c":9,"x":1.77,"m":1.25},{"c":9,"x":1.97,"m":1.89},{"c":9,"x":2.17,"m":2.5},{"c":9,"x":2.37,"m":3.13},{"c":9,"x":2.5,"m":3.56},
{"c":10,"x":0,"m":0.01},{"c":10,"x":1.23,"m":0.01},{"c":10,"x":1.42,"m":0.26},{"c":10,"x":1.61,"m":0.67},{"c":10,"x":1.8,"m":1.17},{"c":10,"x":1.99,"m":1.76},{"c":10,"x":2.18,"m":2.32},{"c":10,"x":2.37,"m":2.91},{"c":10,"x":2.5,"m":3.31}
],
"p8": [
{"c":1,"x":0,"s":0.01},{"c":1,"x":1.03,"s":0.01},{"c":1,"x":1.25,"s":0.35},{"c":1,"x":1.47,"s":0.91},{"c":1,"x":1.69,"s":1.59},{"c":1,"x":1.91,"s":2.4},{"c":1,"x":2.13,"s":3.16},{"c":1,"x":2.35,"s":3.97},{"c":1,"x":2.5,"s":4.51},
{"c":2,"x":0,"s":0.01},{"c":2,"x":1.09,"s":0.01},{"c":2,"x":1.3,"s":0.33},{"c":2,"x":1.51,"s":0.87},{"c":2,"x":1.72,"s":1.52},{"c":2,"x":1.94,"s":2.29},{"c":2,"x":2.15,"s":3.02},{"c":2,"x":2.36,"s":3.79},{"c":2,"x":2.5,"s":4.31},
{"c":3,"x":0,"s":0.01},{"c":3,"x":1.15,"s":0.01},{"c":3,"x":1.35,"s":0.32},{"c":3,"x":1.56,"s":0.83},{"c":3,"x":1.76,"s":1.45},{"c":3,"x":1.96,"s":2.18},{"c":3,"x":2.16,"s":2.88},{"c":3,"x":2.37,"s":3.62},{"c":3,"x":2.5,"s":4.11},
{"c":4,"x":0,"s":0.01},{"c":4,"x":1.21,"s":0.01},{"c":4,"x":1.4,"s":0.3},{"c":4,"x":1.6,"s":0.79},{"c":4,"x":1.79,"s":1.38},{"c":4,"x":1.98,"s":2.08},{"c":4,"x":2.18,"s":2.74},{"c":4,"x":2.37,"s":3.44},{"c":4,"x":2.5,"s":3.91},
{"c":5,"x":0,"s":0.01},{"c":5,"x":1.26,"s":0.01},{"c":5,"x":1.45,"s":0.29},{"c":5,"x":1.63,"s":0.75},{"c":5,"x":1.82,"s":1.31},{"c":5,"x":2.0,"s":1.97},{"c":5,"x":2.19,"s":2.6},{"c":5,"x":2.38,"s":3.27},{"c":5,"x":2.5,"s":3.71},
{"c":6,"x":0,"m":0.01},{"c":6,"x":1.0,"m":0.01},{"c":6,"x":1.23,"m":0.36},{"c":6,"x":1.45,"m":0.95},{"c":6,"x":1.68,"m":1.66},{"c":6,"x":1.9,"m":2.5},{"c":6,"x":2.13,"m":3.3},{"c":6,"x":2.35,"m":4.15},{"c":6,"x":2.5,"m":4.71},
{"c":7,"x":0,"m":0.01},{"c":7,"x":1.06,"m":0.01},{"c":7,"x":1.28,"m":0.35},{"c":7,"x":1.49,"m":0.91},{"c":7,"x":1.71,"m":1.59},{"c":7,"x":1.92,"m":2.4},{"c":7,"x":2.14,"m":3.16},{"c":7,"x":2.36,"m":3.97},{"c":7,"x":2.5,"m":4.51},
{"c":8,"x":0,"m":0.01},{"c":8,"x":1.12,"m":0.01},{"c":8,"x":1.33,"m":0.33},{"c":8,"x":1.53,"m":0.87},{"c":8,"x":1.74,"m":1.52},{"c":8,"x":1.95,"m":2.29},{"c":8,"x":2.16,"m":3.02},{"c":8,"x":2.36,"m":3.79},{"c":8,"x":2.5,"m":4.31},
{"c":9,"x":0,"m":0.01},{"c":9,"x":1.18,"m":0.01},{"c":9,"x":1.38,"m":0.32},{"c":9,"x":1.58,"m":0.83},{"c":9,"x":1.77,"m":1.45},{"c":9,"x":1.97,"m":2.18},{"c":9,"x":2.17,"m":2.88},{"c":9,"x":2.37,"m":3.62},{"c":9,"x":2.5,"m":4.11},
{"c":10,"x":0,"m":0.01},{"c":10,"x":1.23,"m":0.01},{"c":10,"x":1.42,"m":0.3},{"c":10,"x":1.61,"m":0.79},{"c":10,"x":1.8,"m":1.38},{"c":10,"x":1.99,"m":2.08},{"c":10,"x":2.18,"m":2.74},{"c":10,"x":2.37,"m":3.44},{"c":10,"x":2.5,"m":3.91}
],
"p10": [
{"c":1,"x":0,"s":0.23},{"c":1,"x":0.75,"s":0.23},{"c":1,"x":1.01,"s":0.79},{"c":1,"x":1.28,"s":1.77},{"c":1,"x":1.54,"s":2.65},{"c":1,"x":1.8,"s":3.4},{"c":1,"x":2.06,"s":4.05},{"c":1,"x":2.33,"s":4.61},{"c":1,"x":2.5,"s":4.89},
{"c":2,"x":0,"s":0.23},{"c":2,"x":0.8,"s":0.23},{"c":2,"x":1.06,"s":0.78},{"c":2,"x":1.31,"s":1.75},{"c":2,"x":1.57,"s":2.62},{"c":2,"x":1.82,"s":3.36},{"c":2,"x":2.08,"s":4.0},{"c":2,"x":2.33,"s":4.55},{"c":2,"x":2.5,"s":4.83},
{"c":3,"x":0,"s":0.23},{"c":3,"x":0.86,"s":0.23},{"c":3,"x":1.11,"s":0.77},{"c":3,"x":1.35,"s":1.72},{"c":3,"x":1.6,"s":2.59},{"c":3,"x":1.84,"s":3.31},{"c":3,"x":2.09,"s":3.94},{"c":3,"x":2.34,"s":4.49},{"c":3,"x":2.5,"s":4.76},
{"c":4,"x":0,"s":0.23},{"c":4,"x":0.92,"s":0.23},{"c":4,"x":1.16,"s":0.77},{"c":4,"x":1.39,"s":1.7},{"c":4,"x":1.63,"s":2.55},{"c":4,"x":1.87,"s":3.26},{"c":4,"x":2.11,"s":3.89},{"c":4,"x":2.34,"s":4.42},{"c":4,"x":2.5,"s":4.69},
{"c":5,"x":0,"s":0.23},{"c":5,"x":0.98,"s":0.23},{"c":5,"x":1.21,"s":0.76},{"c":5,"x":1.44,"s":1.68},{"c":5,"x":1.66,"s":2.51},{"c":5,"x":1.89,"s":3.22},{"c":5,"x":2.12,"s":3.83},{"c":5,"x":2.35,"s":4.36},{"c":5,"x":2.5,"s":4.62},
{"c":6,"x":0,"m":0.23},{"c":6,"x":0.9,"m":0.23},{"c":6,"x":1.14,"m":0.55},{"c":6,"x":1.38,"m":1.07},{"c":6,"x":1.62,"m":1.7},{"c":6,"x":1.86,"m":2.46},{"c":6,"x":2.1,"m":3.17},{"c":6,"x":2.34,"m":3.93},{"c":6,"x":2.5,"m":4.43},
{"c":7,"x":0,"m":0.23},{"c":7,"x":0.93,"m":0.23},{"c":7,"x":1.17,"m":0.53},{"c":7,"x":1.4,"m":1.04},{"c":7,"x":1.64,"m":1.65},{"c":7,"x":1.87,"m":2.38},{"c":7,"x":2.11,"m":3.07},{"c":7,"x":2.34,"m":3.79},{"c":7,"x":2.5,"m":4.28},
{"c":8,"x":0,"m":0.23},{"c":8,"x":0.95,"m":0.23},{"c":8,"x":1.18,"m":0.52},{"c":8,"x":1.42,"m":1.01},{"c":8,"x":1.65,"m":1.6},{"c":8,"x":1.88,"m":2.3},{"c":8,"x":2.11,"m":2.96},{"c":8,"x":2.35,"m":3.66},{"c":8,"x":2.5,"m":4.13},
{"c":9,"x":0,"m":0.23},{"c":9,"x":0.98,"m":0.23},{"c":9,"x":1.21,"m":0.51},{"c":9,"x":1.44,"m":0.98},{"c":9,"x":1.66,"m":1.54},{"c":9,"x":1.89,"m":2.22},{"c":9,"x":2.12,"m":2.86},{"c":9,"x":2.35,"m":3.53},{"c":9,"x":2.5,"m":3.98},
{"c":10,"x":0,"m":0.23},{"c":10,"x":1.0,"m":0.23},{"c":10,"x":1.23,"m":0.5},{"c":10,"x":1.45,"m":0.95},{"c":10,"x":1.68,"m":1.49},{"c":10,"x":1.9,"m":2.14},{"c":10,"x":2.13,"m":2.75},{"c":10,"x":2.35,"m":3.4},{"c":10,"x":2.5,"m":3.83}
],
"p12": [
{"c":1,"x":0,"s":0},{"c":1,"x":1.09,"s":0},{"c":1,"x":1.3,"s":0.3},{"c":1,"x":1.51,"s":0.81},{"c":1,"x":1.72,"s":1.42},{"c":1,"x":1.94,"s":2.15},{"c":1,"x":2.15,"s":2.84},{"c":1,"x":2.36,"s":3.56},{"c":1,"x":2.5,"s":4.05},
{"c":2,"x":0,"s":0},{"c":2,"x":1.12,"s":0},{"c":2,"x":1.33,"s":0.29},{"c":2,"x":1.53,"s":0.76},{"c":2,"x":1.74,"s":1.33},{"c":2,"x":1.95,"s":2.01},{"c":2,"x":2.16,"s":2.66},{"c":2,"x":2.36,"s":3.34},{"c":2,"x":2.5,"s":3.8},
{"c":3,"x":0,"s":0},{"c":3,"x":1.15,"s":0},{"c":3,"x":1.35,"s":0.27},{"c":3,"x":1.56,"s":0.72},{"c":3,"x":1.76,"s":1.26},{"c":3,"x":1.96,"s":1.91},{"c":3,"x":2.16,"s":2.52},{"c":3,"x":2.37,"s":3.17},{"c":3,"x":2.5,"s":3.6},
{"c":4,"x":0,"s":0},{"c":4,"x":1.21,"s":0},{"c":4,"x":1.4,"s":0.25},{"c":4,"x":1.6,"s":0.67},{"c":4,"x":1.79,"s":1.17},{"c":4,"x":1.98,"s":1.78},{"c":4,"x":2.18,"s":2.35},{"c":4,"x":2.37,"s":2.95},{"c":4,"x":2.5,"s":3.35},
{"c":5,"x":0,"s":0},{"c":5,"x":1.26,"s":0},{"c":5,"x":1.45,"s":0.23},{"c":5,"x":1.63,"s":0.63},{"c":5,"x":1.82,"s":1.1},{"c":5,"x":2.0,"s":1.66},{"c":5,"x":2.19,"s":2.19},{"c":5,"x":2.38,"s":2.75},{"c":5,"x":2.5,"s":3.13},
{"c":6,"x":0,"m":0},{"c":6,"x":0.95,"m":0},{"c":6,"x":1.18,"m":0.32},{"c":6,"x":1.42,"m":0.86},{"c":6,"x":1.65,"m":1.51},{"c":6,"x":1.88,"m":2.28},{"c":6,"x":2.11,"m":3.01},{"c":6,"x":2.35,"m":3.78},{"c":6,"x":2.5,"m":4.3},
{"c":7,"x":0,"m":0},{"c":7,"x":0.98,"m":0},{"c":7,"x":1.21,"m":0.31},{"c":7,"x":1.44,"m":0.82},{"c":7,"x":1.66,"m":1.44},{"c":7,"x":1.89,"m":2.17},{"c":7,"x":2.12,"m":2.87},{"c":7,"x":2.35,"m":3.61},{"c":7,"x":2.5,"m":4.1},
{"c":8,"x":0,"m":0},{"c":8,"x":1.0,"m":0},{"c":8,"x":1.23,"m":0.29},{"c":8,"x":1.45,"m":0.78},{"c":8,"x":1.68,"m":1.37},{"c":8,"x":1.9,"m":2.07},{"c":8,"x":2.13,"m":2.73},{"c":8,"x":2.35,"m":3.43},{"c":8,"x":2.5,"m":3.9},
{"c":9,"x":0,"m":0},{"c":9,"x":1.03,"m":0},{"c":9,"x":1.25,"m":0.28},{"c":9,"x":1.47,"m":0.74},{"c":9,"x":1.69,"m":1.3},{"c":9,"x":1.91,"m":1.96},{"c":9,"x":2.13,"m":2.59},{"c":9,"x":2.35,"m":3.26},{"c":9,"x":2.5,"m":3.7},
{"c":10,"x":0,"m":0},{"c":10,"x":1.06,"m":0},{"c":10,"x":1.28,"m":0.26},{"c":10,"x":1.49,"m":0.7},{"c":10,"x":1.71,"m":1.23},{"c":10,"x":1.92,"m":1.86},{"c":10,"x":2.14,"m":2.45},{"c":10,"x":2.36,"m":3.08},{"c":10,"x":2.5,"m":3.5}
],
"p14": [
{"c":1,"x":0,"s":0.52},{"c":1,"x":0.75,"s":0.52},{"c":1,"x":1.01,"s":0.84},{"c":1,"x":1.28,"s":1.38},{"c":1,"x":1.54,"s":2.02},{"c":1,"x":1.8,"s":2.79},{"c":1,"x":2.06,"s":3.52},{"c":1,"x":2.33,"s":4.3},{"c":1,"x":2.5,"s":4.81},
{"c":2,"x":0,"s":0.52},{"c":2,"x":0.8,"s":0.52},{"c":2,"x":1.06,"s":0.83},{"c":2,"x":1.31,"s":1.35},{"c":2,"x":1.57,"s":1.97},{"c":2,"x":1.82,"s":2.72},{"c":2,"x":2.08,"s":3.43},{"c":2,"x":2.33,"s":4.17},{"c":2,"x":2.5,"s":4.67},
{"c":3,"x":0,"s":0.52},{"c":3,"x":0.86,"s":0.52},{"c":3,"x":1.11,"s":0.82},{"c":3,"x":1.35,"s":1.32},{"c":3,"x":1.6,"s":1.92},{"c":3,"x":1.84,"s":2.64},{"c":3,"x":2.09,"s":3.32},{"c":3,"x":2.34,"s":4.04},{"c":3,"x":2.5,"s":4.52},
{"c":4,"x":0,"s":0.52},{"c":4,"x":0.92,"s":0.52},{"c":4,"x":1.16,"s":0.81},{"c":4,"x":1.39,"s":1.3},{"c":4,"x":1.63,"s":1.89},{"c":4,"x":1.87,"s":2.59},{"c":4,"x":2.11,"s":3.25},{"c":4,"x":2.34,"s":3.95},{"c":4,"x":2.5,"s":4.42},
{"c":5,"x":0,"s":0.52},{"c":5,"x":0.98,"s":0.52},{"c":5,"x":1.21,"s":0.81},{"c":5,"x":1.44,"s":1.28},{"c":5,"x":1.66,"s":1.85},{"c":5,"x":1.89,"s":2.53},{"c":5,"x":2.12,"s":3.18},{"c":5,"x":2.35,"s":3.86},{"c":5,"x":2.5,"s":4.32},
{"c":6,"x":0,"m":0.52},{"c":6,"x":0.86,"m":0.52},{"c":6,"x":1.11,"m":0.83},{"c":6,"x":1.35,"m":1.35},{"c":6,"x":1.6,"m":1.97},{"c":6,"x":1.84,"m":2.71},{"c":6,"x":2.09,"m":3.41},{"c":6,"x":2.34,"m":4.15},{"c":6,"x":2.5,"m":4.65},
{"c":7,"x":0,"m":0.52},{"c":7,"x":0.92,"m":0.52},{"c":7,"x":1.16,"m":0.82},{"c":7,"x":1.39,"m":1.32},{"c":7,"x":1.63,"m":1.91},{"c":7,"x":1.87,"m":2.63},{"c":7,"x":2.11,"m":3.31},{"c":7,"x":2.34,"m":4.02},{"c":7,"x":2.5,"m":4.5},
{"c":8,"x":0,"m":0.52},{"c":8,"x":0.98,"m":0.52},{"c":8,"x":1.21,"m":0.81},{"c":8,"x":1.44,"m":1.29},{"c":8,"x":1.66,"m":1.86},{"c":8,"x":1.89,"m":2.55},{"c":8,"x":2.12,"m":3.2},{"c":8,"x":2.35,"m":3.89},{"c":8,"x":2.5,"m":4.35},
{"c":9,"x":0,"m":0.52},{"c":9,"x":1.03,"m":0.52},{"c":9,"x":1.25,"m":0.8},{"c":9,"x":1.47,"m":1.26},{"c":9,"x":1.69,"m":1.81},{"c":9,"x":1.91,"m":2.47},{"c":9,"x":2.13,"m":3.1},{"c":9,"x":2.35,"m":3.76},{"c":9,"x":2.5,"m":4.2},
{"c":10,"x":0,"m":0.52},{"c":10,"x":1.06,"m":0.52},{"c":10,"x":1.28,"m":0.79},{"c":10,"x":1.49,"m":1.23},{"c":10,"x":1.71,"m":1.76},{"c":10,"x":1.92,"m":2.39},{"c":10,"x":2.14,"m":2.99},{"c":10,"x":2.36,"m":3.63},{"c":10,"x":2.5,"m":4.05}
]
},
"concat": [
{"title":"IDS vs. VDS","data":{"name":"p1"},"resolve":{"axis":{"x":"independent","y":"independent"}},"layer":[
{"mark":{"type":"line","color":"#ff1a4b","strokeWidth":1.5,"invalid":"filter"},"encoding":{"x":{"field":"x","type":"quantitative","scale":{"domain":[-1,3]},"axis":{"orient":"bottom","title":null,"values":[-1,-0.8,-0.6,-0.4,-0.2,0,0.2,0.4,0.6,0.8,1,1.2,1.4,1.6,1.8,2,2.2,2.4,2.6,2.8,3],"tickSize":{"condition":{"test":"abs(datum.value-round(datum.value))<0.01","value":-7},"value":-4}}},"y":{"field":"s","type":"quantitative","scale":{"domain":[-1,5]},"axis":{"orient":"left","title":null,"values":[-1,-0.8,-0.6,-0.4,-0.2,0,0.2,0.4,0.6,0.8,1,1.2,1.4,1.6,1.8,2,2.2,2.4,2.6,2.8,3,3.2,3.4,3.6,3.8,4,4.2,4.4,4.6,4.8,5],"tickSize":{"condition":{"test":"abs(datum.value-round(datum.value))<0.01","value":-7},"value":-4}}},"detail":{"field":"c","type":"nominal"}}},
{"mark":{"type":"line","color":"#000000","strokeWidth":1.5,"strokeDash":[6,4],"invalid":"filter"},"encoding":{"x":{"field":"x","type":"quantitative","scale":{"domain":[-1,3]},"axis":{"orient":"top","title":null,"values":[-1,-0.8,-0.6,-0.4,-0.2,0,0.2,0.4,0.6,0.8,1,1.2,1.4,1.6,1.8,2,2.2,2.4,2.6,2.8,3],"tickSize":{"condition":{"test":"abs(datum.value-round(datum.value))<0.01","value":-7},"value":-4}}},"y":{"field":"m","type":"quantitative","scale":{"domain":[-1,5]},"axis":{"orient":"right","title":null,"values":[-1,-0.8,-0.6,-0.4,-0.2,0,0.2,0.4,0.6,0.8,1,1.2,1.4,1.6,1.8,2,2.2,2.4,2.6,2.8,3,3.2,3.4,3.6,3.8,4,4.2,4.4,4.6,4.8,5],"tickSize":{"condition":{"test":"abs(datum.value-round(datum.value))<0.01","value":-7},"value":-4}}},"detail":{"field":"c","type":"nominal"}}},
{"data":{"values":[{"t":"W= 5.0"}]},"mark":"text","encoding":{"x":{"datum":-0.855,"type":"quantitative","scale":{"domain":[-1,3]},"axis":null},"y":{"datum":4.36,"type":"quantitative","scale":{"domain":[-1,5]},"axis":null},"text":{"field":"t"}}},
{"data":{"values":[{"t":"L= 0.1"}]},"mark":"text","encoding":{"x":{"datum":-0.855,"type":"quantitative","scale":{"domain":[-1,3]},"axis":null},"y":{"datum":3.94,"type":"quantitative","scale":{"domain":[-1,5]},"axis":null},"text":{"field":"t"}}}
]},
{"title":"IDS vs. VGS","data":{"name":"p2"},"resolve":{"axis":{"x":"independent","y":"independent"}},"layer":[
{"mark":{"type":"line","color":"#ff1a4b","strokeWidth":1.5,"invalid":"filter"},"encoding":{"x":{"field":"x","type":"quantitative","scale":{"domain":[-1,3]},"axis":{"orient":"bottom","title":null,"values":[-1,-0.8,-0.6,-0.4,-0.2,0,0.2,0.4,0.6,0.8,1,1.2,1.4,1.6,1.8,2,2.2,2.4,2.6,2.8,3],"tickSize":{"condition":{"test":"abs(datum.value-round(datum.value))<0.01","value":-7},"value":-4}}},"y":{"field":"s","type":"quantitative","scale":{"domain":[-1,5]},"axis":{"orient":"left","title":null,"values":[-1,-0.8,-0.6,-0.4,-0.2,0,0.2,0.4,0.6,0.8,1,1.2,1.4,1.6,1.8,2,2.2,2.4,2.6,2.8,3,3.2,3.4,3.6,3.8,4,4.2,4.4,4.6,4.8,5],"tickSize":{"condition":{"test":"abs(datum.value-round(datum.value))<0.01","value":-7},"value":-4}}},"detail":{"field":"c","type":"nominal"}}},
{"mark":{"type":"line","color":"#000000","strokeWidth":1.5,"strokeDash":[6,4],"invalid":"filter"},"encoding":{"x":{"field":"x","type":"quantitative","scale":{"domain":[-1,3]},"axis":{"orient":"top","title":null,"values":[-1,-0.8,-0.6,-0.4,-0.2,0,0.2,0.4,0.6,0.8,1,1.2,1.4,1.6,1.8,2,2.2,2.4,2.6,2.8,3],"tickSize":{"condition":{"test":"abs(datum.value-round(datum.value))<0.01","value":-7},"value":-4}}},"y":{"field":"m","type":"quantitative","scale":{"domain":[-1,5]},"axis":{"orient":"right","title":null,"values":[-1,-0.8,-0.6,-0.4,-0.2,0,0.2,0.4,0.6,0.8,1,1.2,1.4,1.6,1.8,2,2.2,2.4,2.6,2.8,3,3.2,3.4,3.6,3.8,4,4.2,4.4,4.6,4.8,5],"tickSize":{"condition":{"test":"abs(datum.value-round(datum.value))<0.01","value":-7},"value":-4}}},"detail":{"field":"c","type":"nominal"}}},
{"data":{"values":[{"t":"W= 2.0"}]},"mark":"text","encoding":{"x":{"datum":-0.855,"type":"quantitative","scale":{"domain":[-1,3]},"axis":null},"y":{"datum":4.36,"type":"quantitative","scale":{"domain":[-1,5]},"axis":null},"text":{"field":"t"}}},
{"data":{"values":[{"t":"L= 0.1"}]},"mark":"text","encoding":{"x":{"datum":-0.855,"type":"quantitative","scale":{"domain":[-1,3]},"axis":null},"y":{"datum":3.94,"type":"quantitative","scale":{"domain":[-1,5]},"axis":null},"text":{"field":"t"}}}
]},
{"title":"IDS vs. VDS","data":{"name":"p3"},"resolve":{"axis":{"x":"independent","y":"independent"}},"layer":[
{"mark":{"type":"line","color":"#ff1a4b","strokeWidth":1.5,"invalid":"filter"},"encoding":{"x":{"field":"x","type":"quantitative","scale":{"domain":[-1,3]},"axis":{"orient":"bottom","title":null,"values":[-1,-0.8,-0.6,-0.4,-0.2,0,0.2,0.4,0.6,0.8,1,1.2,1.4,1.6,1.8,2,2.2,2.4,2.6,2.8,3],"tickSize":{"condition":{"test":"abs(datum.value-round(datum.value))<0.01","value":-7},"value":-4}}},"y":{"field":"s","type":"quantitative","scale":{"domain":[-1,5]},"axis":{"orient":"left","title":null,"values":[-1,-0.8,-0.6,-0.4,-0.2,0,0.2,0.4,0.6,0.8,1,1.2,1.4,1.6,1.8,2,2.2,2.4,2.6,2.8,3,3.2,3.4,3.6,3.8,4,4.2,4.4,4.6,4.8,5],"tickSize":{"condition":{"test":"abs(datum.value-round(datum.value))<0.01","value":-7},"value":-4}}},"detail":{"field":"c","type":"nominal"}}},
{"mark":{"type":"line","color":"#000000","strokeWidth":1.5,"strokeDash":[6,4],"invalid":"filter"},"encoding":{"x":{"field":"x","type":"quantitative","scale":{"domain":[-1,3]},"axis":{"orient":"top","title":null,"values":[-1,-0.8,-0.6,-0.4,-0.2,0,0.2,0.4,0.6,0.8,1,1.2,1.4,1.6,1.8,2,2.2,2.4,2.6,2.8,3],"tickSize":{"condition":{"test":"abs(datum.value-round(datum.value))<0.01","value":-7},"value":-4}}},"y":{"field":"m","type":"quantitative","scale":{"domain":[-1,5]},"axis":{"orient":"right","title":null,"values":[-1,-0.8,-0.6,-0.4,-0.2,0,0.2,0.4,0.6,0.8,1,1.2,1.4,1.6,1.8,2,2.2,2.4,2.6,2.8,3,3.2,3.4,3.6,3.8,4,4.2,4.4,4.6,4.8,5],"tickSize":{"condition":{"test":"abs(datum.value-round(datum.value))<0.01","value":-7},"value":-4}}},"detail":{"field":"c","type":"nominal"}}},
{"data":{"values":[{"t":"W= 0.56"}]},"mark":"text","encoding":{"x":{"datum":-0.855,"type":"quantitative","scale":{"domain":[-1,3]},"axis":null},"y":{"datum":4.36,"type":"quantitative","scale":{"domain":[-1,5]},"axis":null},"text":{"field":"t"}}},
{"data":{"values":[{"t":"L= 0.1"}]},"mark":"text","encoding":{"x":{"datum":-0.855,"type":"quantitative","scale":{"domain":[-1,3]},"axis":null},"y":{"datum":3.94,"type":"quantitative","scale":{"domain":[-1,5]},"axis":null},"text":{"field":"t"}}}
]},
{"title":"IDS vs. VGS","data":{"name":"p4"},"resolve":{"axis":{"x":"independent","y":"independent"}},"layer":[
{"mark":{"type":"line","color":"#ff1a4b","strokeWidth":1.5,"invalid":"filter"},"encoding":{"x":{"field":"x","type":"quantitative","scale":{"domain":[-1,3]},"axis":{"orient":"bottom","title":null,"values":[-1,-0.8,-0.6,-0.4,-0.2,0,0.2,0.4,0.6,0.8,1,1.2,1.4,1.6,1.8,2,2.2,2.4,2.6,2.8,3],"tickSize":{"condition":{"test":"abs(datum.value-round(datum.value))<0.01","value":-7},"value":-4}}},"y":{"field":"s","type":"quantitative","scale":{"domain":[-1,5]},"axis":{"orient":"left","title":null,"values":[-1,-0.8,-0.6,-0.4,-0.2,0,0.2,0.4,0.6,0.8,1,1.2,1.4,1.6,1.8,2,2.2,2.4,2.6,2.8,3,3.2,3.4,3.6,3.8,4,4.2,4.4,4.6,4.8,5],"tickSize":{"condition":{"test":"abs(datum.value-round(datum.value))<0.01","value":-7},"value":-4}}},"detail":{"field":"c","type":"nominal"}}},
{"mark":{"type":"line","color":"#000000","strokeWidth":1.5,"strokeDash":[6,4],"invalid":"filter"},"encoding":{"x":{"field":"x","type":"quantitative","scale":{"domain":[-1,3]},"axis":{"orient":"top","title":null,"values":[-1,-0.8,-0.6,-0.4,-0.2,0,0.2,0.4,0.6,0.8,1,1.2,1.4,1.6,1.8,2,2.2,2.4,2.6,2.8,3],"tickSize":{"condition":{"test":"abs(datum.value-round(datum.value))<0.01","value":-7},"value":-4}}},"y":{"field":"m","type":"quantitative","scale":{"domain":[-1,5]},"axis":{"orient":"right","title":null,"values":[-1,-0.8,-0.6,-0.4,-0.2,0,0.2,0.4,0.6,0.8,1,1.2,1.4,1.6,1.8,2,2.2,2.4,2.6,2.8,3,3.2,3.4,3.6,3.8,4,4.2,4.4,4.6,4.8,5],"tickSize":{"condition":{"test":"abs(datum.value-round(datum.value))<0.01","value":-7},"value":-4}}},"detail":{"field":"c","type":"nominal"}}},
{"data":{"values":[{"t":"W= 0.3"}]},"mark":"text","encoding":{"x":{"datum":-0.855,"type":"quantitative","scale":{"domain":[-1,3]},"axis":null},"y":{"datum":4.36,"type":"quantitative","scale":{"domain":[-1,5]},"axis":null},"text":{"field":"t"}}},
{"data":{"values":[{"t":"L= 0.1"}]},"mark":"text","encoding":{"x":{"datum":-0.855,"type":"quantitative","scale":{"domain":[-1,3]},"axis":null},"y":{"datum":3.94,"type":"quantitative","scale":{"domain":[-1,5]},"axis":null},"text":{"field":"t"}}}
]},
{"title":"IDS vs. VDS","data":{"name":"p5"},"resolve":{"axis":{"x":"independent","y":"independent"}},"layer":[
{"mark":{"type":"line","color":"#ff1a4b","strokeWidth":1.5,"invalid":"filter"},"encoding":{"x":{"field":"x","type":"quantitative","scale":{"domain":[-1,3]},"axis":{"orient":"bottom","title":null,"values":[-1,-0.8,-0.6,-0.4,-0.2,0,0.2,0.4,0.6,0.8,1,1.2,1.4,1.6,1.8,2,2.2,2.4,2.6,2.8,3],"tickSize":{"condition":{"test":"abs(datum.value-round(datum.value))<0.01","value":-7},"value":-4}}},"y":{"field":"s","type":"quantitative","scale":{"domain":[-1,5]},"axis":{"orient":"left","title":null,"values":[-1,-0.8,-0.6,-0.4,-0.2,0,0.2,0.4,0.6,0.8,1,1.2,1.4,1.6,1.8,2,2.2,2.4,2.6,2.8,3,3.2,3.4,3.6,3.8,4,4.2,4.4,4.6,4.8,5],"tickSize":{"condition":{"test":"abs(datum.value-round(datum.value))<0.01","value":-7},"value":-4}}},"detail":{"field":"c","type":"nominal"}}},
{"mark":{"type":"line","color":"#000000","strokeWidth":1.5,"strokeDash":[6,4],"invalid":"filter"},"encoding":{"x":{"field":"x","type":"quantitative","scale":{"domain":[-1,3]},"axis":{"orient":"top","title":null,"values":[-1,-0.8,-0.6,-0.4,-0.2,0,0.2,0.4,0.6,0.8,1,1.2,1.4,1.6,1.8,2,2.2,2.4,2.6,2.8,3],"tickSize":{"condition":{"test":"abs(datum.value-round(datum.value))<0.01","value":-7},"value":-4}}},"y":{"field":"m","type":"quantitative","scale":{"domain":[-1,5]},"axis":{"orient":"right","title":null,"values":[-1,-0.8,-0.6,-0.4,-0.2,0,0.2,0.4,0.6,0.8,1,1.2,1.4,1.6,1.8,2,2.2,2.4,2.6,2.8,3,3.2,3.4,3.6,3.8,4,4.2,4.4,4.6,4.8,5],"tickSize":{"condition":{"test":"abs(datum.value-round(datum.value))<0.01","value":-7},"value":-4}}},"detail":{"field":"c","type":"nominal"}}},
{"data":{"values":[{"t":"W= 0.11"}]},"mark":"text","encoding":{"x":{"datum":-0.855,"type":"quantitative","scale":{"domain":[-1,3]},"axis":null},"y":{"datum":4.36,"type":"quantitative","scale":{"domain":[-1,5]},"axis":null},"text":{"field":"t"}}},
{"data":{"values":[{"t":"L= 0.1"}]},"mark":"text","encoding":{"x":{"datum":-0.855,"type":"quantitative","scale":{"domain":[-1,3]},"axis":null},"y":{"datum":3.94,"type":"quantitative","scale":{"domain":[-1,5]},"axis":null},"text":{"field":"t"}}}
]},
{"title":"IDS vs. VGS","data":{"name":"p6"},"resolve":{"axis":{"x":"independent","y":"independent"}},"layer":[
{"mark":{"type":"line","color":"#ff1a4b","strokeWidth":1.5,"invalid":"filter"},"encoding":{"x":{"field":"x","type":"quantitative","scale":{"domain":[-1,3]},"axis":{"orient":"bottom","title":null,"values":[-1,-0.8,-0.6,-0.4,-0.2,0,0.2,0.4,0.6,0.8,1,1.2,1.4,1.6,1.8,2,2.2,2.4,2.6,2.8,3],"tickSize":{"condition":{"test":"abs(datum.value-round(datum.value))<0.01","value":-7},"value":-4}}},"y":{"field":"s","type":"quantitative","scale":{"domain":[-1,5]},"axis":{"orient":"left","title":null,"values":[-1,-0.8,-0.6,-0.4,-0.2,0,0.2,0.4,0.6,0.8,1,1.2,1.4,1.6,1.8,2,2.2,2.4,2.6,2.8,3,3.2,3.4,3.6,3.8,4,4.2,4.4,4.6,4.8,5],"tickSize":{"condition":{"test":"abs(datum.value-round(datum.value))<0.01","value":-7},"value":-4}}},"detail":{"field":"c","type":"nominal"}}},
{"mark":{"type":"line","color":"#000000","strokeWidth":1.5,"strokeDash":[6,4],"invalid":"filter"},"encoding":{"x":{"field":"x","type":"quantitative","scale":{"domain":[-1,3]},"axis":{"orient":"top","title":null,"values":[-1,-0.8,-0.6,-0.4,-0.2,0,0.2,0.4,0.6,0.8,1,1.2,1.4,1.6,1.8,2,2.2,2.4,2.6,2.8,3],"tickSize":{"condition":{"test":"abs(datum.value-round(datum.value))<0.01","value":-7},"value":-4}}},"y":{"field":"m","type":"quantitative","scale":{"domain":[-1,5]},"axis":{"orient":"right","title":null,"values":[-1,-0.8,-0.6,-0.4,-0.2,0,0.2,0.4,0.6,0.8,1,1.2,1.4,1.6,1.8,2,2.2,2.4,2.6,2.8,3,3.2,3.4,3.6,3.8,4,4.2,4.4,4.6,4.8,5],"tickSize":{"condition":{"test":"abs(datum.value-round(datum.value))<0.01","value":-7},"value":-4}}},"detail":{"field":"c","type":"nominal"}}},
{"data":{"values":[{"t":"W= 5.0"}]},"mark":"text","encoding":{"x":{"datum":-0.855,"type":"quantitative","scale":{"domain":[-1,3]},"axis":null},"y":{"datum":4.36,"type":"quantitative","scale":{"domain":[-1,5]},"axis":null},"text":{"field":"t"}}},
{"data":{"values":[{"t":"L= 0.1"}]},"mark":"text","encoding":{"x":{"datum":-0.855,"type":"quantitative","scale":{"domain":[-1,3]},"axis":null},"y":{"datum":3.94,"type":"quantitative","scale":{"domain":[-1,5]},"axis":null},"text":{"field":"t"}}}
]},
{"title":"IDS vs. VDS","data":{"name":"p7"},"resolve":{"axis":{"x":"independent","y":"independent"}},"layer":[
{"mark":{"type":"line","color":"#ff1a4b","strokeWidth":1.5,"invalid":"filter"},"encoding":{"x":{"field":"x","type":"quantitative","scale":{"domain":[-1,3]},"axis":{"orient":"bottom","title":null,"values":[-1,-0.8,-0.6,-0.4,-0.2,0,0.2,0.4,0.6,0.8,1,1.2,1.4,1.6,1.8,2,2.2,2.4,2.6,2.8,3],"tickSize":{"condition":{"test":"abs(datum.value-round(datum.value))<0.01","value":-7},"value":-4}}},"y":{"field":"s","type":"quantitative","scale":{"domain":[-1,5]},"axis":{"orient":"left","title":null,"values":[-1,-0.8,-0.6,-0.4,-0.2,0,0.2,0.4,0.6,0.8,1,1.2,1.4,1.6,1.8,2,2.2,2.4,2.6,2.8,3,3.2,3.4,3.6,3.8,4,4.2,4.4,4.6,4.8,5],"tickSize":{"condition":{"test":"abs(datum.value-round(datum.value))<0.01","value":-7},"value":-4}}},"detail":{"field":"c","type":"nominal"}}},
{"mark":{"type":"line","color":"#000000","strokeWidth":1.5,"strokeDash":[6,4],"invalid":"filter"},"encoding":{"x":{"field":"x","type":"quantitative","scale":{"domain":[-1,3]},"axis":{"orient":"top","title":null,"values":[-1,-0.8,-0.6,-0.4,-0.2,0,0.2,0.4,0.6,0.8,1,1.2,1.4,1.6,1.8,2,2.2,2.4,2.6,2.8,3],"tickSize":{"condition":{"test":"abs(datum.value-round(datum.value))<0.01","value":-7},"value":-4}}},"y":{"field":"m","type":"quantitative","scale":{"domain":[-1,5]},"axis":{"orient":"right","title":null,"values":[-1,-0.8,-0.6,-0.4,-0.2,0,0.2,0.4,0.6,0.8,1,1.2,1.4,1.6,1.8,2,2.2,2.4,2.6,2.8,3,3.2,3.4,3.6,3.8,4,4.2,4.4,4.6,4.8,5],"tickSize":{"condition":{"test":"abs(datum.value-round(datum.value))<0.01","value":-7},"value":-4}}},"detail":{"field":"c","type":"nominal"}}},
{"data":{"values":[{"t":"W= 1.0"}]},"mark":"text","encoding":{"x":{"datum":-0.855,"type":"quantitative","scale":{"domain":[-1,3]},"axis":null},"y":{"datum":4.36,"type":"quantitative","scale":{"domain":[-1,5]},"axis":null},"text":{"field":"t"}}},
{"data":{"values":[{"t":"L= 0.1"}]},"mark":"text","encoding":{"x":{"datum":-0.855,"type":"quantitative","scale":{"domain":[-1,3]},"axis":null},"y":{"datum":3.94,"type":"quantitative","scale":{"domain":[-1,5]},"axis":null},"text":{"field":"t"}}}
]},
{"title":"IDS vs. VGS","data":{"name":"p8"},"resolve":{"axis":{"x":"independent","y":"independent"}},"layer":[
{"mark":{"type":"line","color":"#ff1a4b","strokeWidth":1.5,"invalid":"filter"},"encoding":{"x":{"field":"x","type":"quantitative","scale":{"domain":[-1,3]},"axis":{"orient":"bottom","title":null,"values":[-1,-0.8,-0.6,-0.4,-0.2,0,0.2,0.4,0.6,0.8,1,1.2,1.4,1.6,1.8,2,2.2,2.4,2.6,2.8,3],"tickSize":{"condition":{"test":"abs(datum.value-round(datum.value))<0.01","value":-7},"value":-4}}},"y":{"field":"s","type":"quantitative","scale":{"domain":[-1,5]},"axis":{"orient":"left","title":null,"values":[-1,-0.8,-0.6,-0.4,-0.2,0,0.2,0.4,0.6,0.8,1,1.2,1.4,1.6,1.8,2,2.2,2.4,2.6,2.8,3,3.2,3.4,3.6,3.8,4,4.2,4.4,4.6,4.8,5],"tickSize":{"condition":{"test":"abs(datum.value-round(datum.value))<0.01","value":-7},"value":-4}}},"detail":{"field":"c","type":"nominal"}}},
{"mark":{"type":"line","color":"#000000","strokeWidth":1.5,"strokeDash":[6,4],"invalid":"filter"},"encoding":{"x":{"field":"x","type":"quantitative","scale":{"domain":[-1,3]},"axis":{"orient":"top","title":null,"values":[-1,-0.8,-0.6,-0.4,-0.2,0,0.2,0.4,0.6,0.8,1,1.2,1.4,1.6,1.8,2,2.2,2.4,2.6,2.8,3],"tickSize":{"condition":{"test":"abs(datum.value-round(datum.value))<0.01","value":-7},"value":-4}}},"y":{"field":"m","type":"quantitative","scale":{"domain":[-1,5]},"axis":{"orient":"right","title":null,"values":[-1,-0.8,-0.6,-0.4,-0.2,0,0.2,0.4,0.6,0.8,1,1.2,1.4,1.6,1.8,2,2.2,2.4,2.6,2.8,3,3.2,3.4,3.6,3.8,4,4.2,4.4,4.6,4.8,5],"tickSize":{"condition":{"test":"abs(datum.value-round(datum.value))<0.01","value":-7},"value":-4}}},"detail":{"field":"c","type":"nominal"}}},
{"data":{"values":[{"t":"W= 0.56"}]},"mark":"text","encoding":{"x":{"datum":-0.855,"type":"quantitative","scale":{"domain":[-1,3]},"axis":null},"y":{"datum":4.36,"type":"quantitative","scale":{"domain":[-1,5]},"axis":null},"text":{"field":"t"}}},
{"data":{"values":[{"t":"L= 0.1"}]},"mark":"text","encoding":{"x":{"datum":-0.855,"type":"quantitative","scale":{"domain":[-1,3]},"axis":null},"y":{"datum":3.94,"type":"quantitative","scale":{"domain":[-1,5]},"axis":null},"text":{"field":"t"}}}
]},
{"title":"IDS vs. VDS","data":{"name":"p9"},"resolve":{"axis":{"x":"independent","y":"independent"}},"layer":[
{"mark":{"type":"line","color":"#ff1a4b","strokeWidth":1.5,"invalid":"filter"},"encoding":{"x":{"field":"x","type":"quantitative","scale":{"domain":[-1,3]},"axis":{"orient":"bottom","title":null,"values":[-1,-0.8,-0.6,-0.4,-0.2,0,0.2,0.4,0.6,0.8,1,1.2,1.4,1.6,1.8,2,2.2,2.4,2.6,2.8,3],"tickSize":{"condition":{"test":"abs(datum.value-round(datum.value))<0.01","value":-7},"value":-4}}},"y":{"field":"s","type":"quantitative","scale":{"domain":[-1,5]},"axis":{"orient":"left","title":null,"values":[-1,-0.8,-0.6,-0.4,-0.2,0,0.2,0.4,0.6,0.8,1,1.2,1.4,1.6,1.8,2,2.2,2.4,2.6,2.8,3,3.2,3.4,3.6,3.8,4,4.2,4.4,4.6,4.8,5],"tickSize":{"condition":{"test":"abs(datum.value-round(datum.value))<0.01","value":-7},"value":-4}}},"detail":{"field":"c","type":"nominal"}}},
{"mark":{"type":"line","color":"#000000","strokeWidth":1.5,"strokeDash":[6,4],"invalid":"filter"},"encoding":{"x":{"field":"x","type":"quantitative","scale":{"domain":[-1,3]},"axis":{"orient":"top","title":null,"values":[-1,-0.8,-0.6,-0.4,-0.2,0,0.2,0.4,0.6,0.8,1,1.2,1.4,1.6,1.8,2,2.2,2.4,2.6,2.8,3],"tickSize":{"condition":{"test":"abs(datum.value-round(datum.value))<0.01","value":-7},"value":-4}}},"y":{"field":"m","type":"quantitative","scale":{"domain":[-1,5]},"axis":{"orient":"right","title":null,"values":[-1,-0.8,-0.6,-0.4,-0.2,0,0.2,0.4,0.6,0.8,1,1.2,1.4,1.6,1.8,2,2.2,2.4,2.6,2.8,3,3.2,3.4,3.6,3.8,4,4.2,4.4,4.6,4.8,5],"tickSize":{"condition":{"test":"abs(datum.value-round(datum.value))<0.01","value":-7},"value":-4}}},"detail":{"field":"c","type":"nominal"}}},
{"data":{"values":[{"t":"W= 0.15"}]},"mark":"text","encoding":{"x":{"datum":-0.855,"type":"quantitative","scale":{"domain":[-1,3]},"axis":null},"y":{"datum":4.36,"type":"quantitative","scale":{"domain":[-1,5]},"axis":null},"text":{"field":"t"}}},
{"data":{"values":[{"t":"L= 0.1"}]},"mark":"text","encoding":{"x":{"datum":-0.855,"type":"quantitative","scale":{"domain":[-1,3]},"axis":null},"y":{"datum":3.94,"type":"quantitative","scale":{"domain":[-1,5]},"axis":null},"text":{"field":"t"}}}
]},
{"title":"IDS vs. VGS","data":{"name":"p10"},"resolve":{"axis":{"x":"independent","y":"independent"}},"layer":[
{"mark":{"type":"line","color":"#ff1a4b","strokeWidth":1.5,"invalid":"filter"},"encoding":{"x":{"field":"x","type":"quantitative","scale":{"domain":[-1,3]},"axis":{"orient":"bottom","title":null,"values":[-1,-0.8,-0.6,-0.4,-0.2,0,0.2,0.4,0.6,0.8,1,1.2,1.4,1.6,1.8,2,2.2,2.4,2.6,2.8,3],"tickSize":{"condition":{"test":"abs(datum.value-round(datum.value))<0.01","value":-7},"value":-4}}},"y":{"field":"s","type":"quantitative","scale":{"domain":[-1,5]},"axis":{"orient":"left","title":null,"values":[-1,-0.8,-0.6,-0.4,-0.2,0,0.2,0.4,0.6,0.8,1,1.2,1.4,1.6,1.8,2,2.2,2.4,2.6,2.8,3,3.2,3.4,3.6,3.8,4,4.2,4.4,4.6,4.8,5],"tickSize":{"condition":{"test":"abs(datum.value-round(datum.value))<0.01","value":-7},"value":-4}}},"detail":{"field":"c","type":"nominal"}}},
{"mark":{"type":"line","color":"#000000","strokeWidth":1.5,"strokeDash":[6,4],"invalid":"filter"},"encoding":{"x":{"field":"x","type":"quantitative","scale":{"domain":[-1,3]},"axis":{"orient":"top","title":null,"values":[-1,-0.8,-0.6,-0.4,-0.2,0,0.2,0.4,0.6,0.8,1,1.2,1.4,1.6,1.8,2,2.2,2.4,2.6,2.8,3],"tickSize":{"condition":{"test":"abs(datum.value-round(datum.value))<0.01","value":-7},"value":-4}}},"y":{"field":"m","type":"quantitative","scale":{"domain":[-1,5]},"axis":{"orient":"right","title":null,"values":[-1,-0.8,-0.6,-0.4,-0.2,0,0.2,0.4,0.6,0.8,1,1.2,1.4,1.6,1.8,2,2.2,2.4,2.6,2.8,3,3.2,3.4,3.6,3.8,4,4.2,4.4,4.6,4.8,5],"tickSize":{"condition":{"test":"abs(datum.value-round(datum.value))<0.01","value":-7},"value":-4}}},"detail":{"field":"c","type":"nominal"}}},
{"data":{"values":[{"t":"W= 0.11"}]},"mark":"text","encoding":{"x":{"datum":-0.855,"type":"quantitative","scale":{"domain":[-1,3]},"axis":null},"y":{"datum":4.36,"type":"quantitative","scale":{"domain":[-1,5]},"axis":null},"text":{"field":"t"}}},
{"data":{"values":[{"t":"L= 0.1"}]},"mark":"text","encoding":{"x":{"datum":-0.855,"type":"quantitative","scale":{"domain":[-1,3]},"axis":null},"y":{"datum":3.94,"type":"quantitative","scale":{"domain":[-1,5]},"axis":null},"text":{"field":"t"}}}
]},
{"title":"IDS vs. VDS","data":{"name":"p11"},"resolve":{"axis":{"x":"independent","y":"independent"}},"layer":[
{"mark":{"type":"line","color":"#ff1a4b","strokeWidth":1.5,"invalid":"filter"},"encoding":{"x":{"field":"x","type":"quantitative","scale":{"domain":[-1,3]},"axis":{"orient":"bottom","title":null,"values":[-1,-0.8,-0.6,-0.4,-0.2,0,0.2,0.4,0.6,0.8,1,1.2,1.4,1.6,1.8,2,2.2,2.4,2.6,2.8,3],"tickSize":{"condition":{"test":"abs(datum.value-round(datum.value))<0.01","value":-7},"value":-4}}},"y":{"field":"s","type":"quantitative","scale":{"domain":[-1,5]},"axis":{"orient":"left","title":null,"values":[-1,-0.8,-0.6,-0.4,-0.2,0,0.2,0.4,0.6,0.8,1,1.2,1.4,1.6,1.8,2,2.2,2.4,2.6,2.8,3,3.2,3.4,3.6,3.8,4,4.2,4.4,4.6,4.8,5],"tickSize":{"condition":{"test":"abs(datum.value-round(datum.value))<0.01","value":-7},"value":-4}}},"detail":{"field":"c","type":"nominal"}}},
{"mark":{"type":"line","color":"#000000","strokeWidth":1.5,"strokeDash":[6,4],"invalid":"filter"},"encoding":{"x":{"field":"x","type":"quantitative","scale":{"domain":[-1,3]},"axis":{"orient":"top","title":null,"values":[-1,-0.8,-0.6,-0.4,-0.2,0,0.2,0.4,0.6,0.8,1,1.2,1.4,1.6,1.8,2,2.2,2.4,2.6,2.8,3],"tickSize":{"condition":{"test":"abs(datum.value-round(datum.value))<0.01","value":-7},"value":-4}}},"y":{"field":"m","type":"quantitative","scale":{"domain":[-1,5]},"axis":{"orient":"right","title":null,"values":[-1,-0.8,-0.6,-0.4,-0.2,0,0.2,0.4,0.6,0.8,1,1.2,1.4,1.6,1.8,2,2.2,2.4,2.6,2.8,3,3.2,3.4,3.6,3.8,4,4.2,4.4,4.6,4.8,5],"tickSize":{"condition":{"test":"abs(datum.value-round(datum.value))<0.01","value":-7},"value":-4}}},"detail":{"field":"c","type":"nominal"}}},
{"data":{"values":[{"t":"W= 2.0"}]},"mark":"text","encoding":{"x":{"datum":-0.855,"type":"quantitative","scale":{"domain":[-1,3]},"axis":null},"y":{"datum":4.36,"type":"quantitative","scale":{"domain":[-1,5]},"axis":null},"text":{"field":"t"}}},
{"data":{"values":[{"t":"L= 0.1"}]},"mark":"text","encoding":{"x":{"datum":-0.855,"type":"quantitative","scale":{"domain":[-1,3]},"axis":null},"y":{"datum":3.94,"type":"quantitative","scale":{"domain":[-1,5]},"axis":null},"text":{"field":"t"}}}
]},
{"title":"IDS vs. VGS","data":{"name":"p12"},"resolve":{"axis":{"x":"independent","y":"independent"}},"layer":[
{"mark":{"type":"line","color":"#ff1a4b","strokeWidth":1.5,"invalid":"filter"},"encoding":{"x":{"field":"x","type":"quantitative","scale":{"domain":[-1,3]},"axis":{"orient":"bottom","title":null,"values":[-1,-0.8,-0.6,-0.4,-0.2,0,0.2,0.4,0.6,0.8,1,1.2,1.4,1.6,1.8,2,2.2,2.4,2.6,2.8,3],"tickSize":{"condition":{"test":"abs(datum.value-round(datum.value))<0.01","value":-7},"value":-4}}},"y":{"field":"s","type":"quantitative","scale":{"domain":[-1,5]},"axis":{"orient":"left","title":null,"values":[-1,-0.8,-0.6,-0.4,-0.2,0,0.2,0.4,0.6,0.8,1,1.2,1.4,1.6,1.8,2,2.2,2.4,2.6,2.8,3,3.2,3.4,3.6,3.8,4,4.2,4.4,4.6,4.8,5],"tickSize":{"condition":{"test":"abs(datum.value-round(datum.value))<0.01","value":-7},"value":-4}}},"detail":{"field":"c","type":"nominal"}}},
{"mark":{"type":"line","color":"#000000","strokeWidth":1.5,"strokeDash":[6,4],"invalid":"filter"},"encoding":{"x":{"field":"x","type":"quantitative","scale":{"domain":[-1,3]},"axis":{"orient":"top","title":null,"values":[-1,-0.8,-0.6,-0.4,-0.2,0,0.2,0.4,0.6,0.8,1,1.2,1.4,1.6,1.8,2,2.2,2.4,2.6,2.8,3],"tickSize":{"condition":{"test":"abs(datum.value-round(datum.value))<0.01","value":-7},"value":-4}}},"y":{"field":"m","type":"quantitative","scale":{"domain":[-1,5]},"axis":{"orient":"right","title":null,"values":[-1,-0.8,-0.6,-0.4,-0.2,0,0.2,0.4,0.6,0.8,1,1.2,1.4,1.6,1.8,2,2.2,2.4,2.6,2.8,3,3.2,3.4,3.6,3.8,4,4.2,4.4,4.6,4.8,5],"tickSize":{"condition":{"test":"abs(datum.value-round(datum.value))<0.01","value":-7},"value":-4}}},"detail":{"field":"c","type":"nominal"}}},
{"data":{"values":[{"t":"W= 1.0"}]},"mark":"text","encoding":{"x":{"datum":-0.855,"type":"quantitative","scale":{"domain":[-1,3]},"axis":null},"y":{"datum":4.36,"type":"quantitative","scale":{"domain":[-1,5]},"axis":null},"text":{"field":"t"}}},
{"data":{"values":[{"t":"L= 0.1"}]},"mark":"text","encoding":{"x":{"datum":-0.855,"type":"quantitative","scale":{"domain":[-1,3]},"axis":null},"y":{"datum":3.94,"type":"quantitative","scale":{"domain":[-1,5]},"axis":null},"text":{"field":"t"}}}
]},
{"title":"IDS vs. VDS","data":{"name":"p13"},"resolve":{"axis":{"x":"independent","y":"independent"}},"layer":[
{"mark":{"type":"line","color":"#ff1a4b","strokeWidth":1.5,"invalid":"filter"},"encoding":{"x":{"field":"x","type":"quantitative","scale":{"domain":[-1,3]},"axis":{"orient":"bottom","title":null,"values":[-1,-0.8,-0.6,-0.4,-0.2,0,0.2,0.4,0.6,0.8,1,1.2,1.4,1.6,1.8,2,2.2,2.4,2.6,2.8,3],"tickSize":{"condition":{"test":"abs(datum.value-round(datum.value))<0.01","value":-7},"value":-4}}},"y":{"field":"s","type":"quantitative","scale":{"domain":[-1,5]},"axis":{"orient":"left","title":null,"values":[-1,-0.8,-0.6,-0.4,-0.2,0,0.2,0.4,0.6,0.8,1,1.2,1.4,1.6,1.8,2,2.2,2.4,2.6,2.8,3,3.2,3.4,3.6,3.8,4,4.2,4.4,4.6,4.8,5],"tickSize":{"condition":{"test":"abs(datum.value-round(datum.value))<0.01","value":-7},"value":-4}}},"detail":{"field":"c","type":"nominal"}}},
{"mark":{"type":"line","color":"#000000","strokeWidth":1.5,"strokeDash":[6,4],"invalid":"filter"},"encoding":{"x":{"field":"x","type":"quantitative","scale":{"domain":[-1,3]},"axis":{"orient":"top","title":null,"values":[-1,-0.8,-0.6,-0.4,-0.2,0,0.2,0.4,0.6,0.8,1,1.2,1.4,1.6,1.8,2,2.2,2.4,2.6,2.8,3],"tickSize":{"condition":{"test":"abs(datum.value-round(datum.value))<0.01","value":-7},"value":-4}}},"y":{"field":"m","type":"quantitative","scale":{"domain":[-1,5]},"axis":{"orient":"right","title":null,"values":[-1,-0.8,-0.6,-0.4,-0.2,0,0.2,0.4,0.6,0.8,1,1.2,1.4,1.6,1.8,2,2.2,2.4,2.6,2.8,3,3.2,3.4,3.6,3.8,4,4.2,4.4,4.6,4.8,5],"tickSize":{"condition":{"test":"abs(datum.value-round(datum.value))<0.01","value":-7},"value":-4}}},"detail":{"field":"c","type":"nominal"}}},
{"data":{"values":[{"t":"W= 0.3"}]},"mark":"text","encoding":{"x":{"datum":-0.855,"type":"quantitative","scale":{"domain":[-1,3]},"axis":null},"y":{"datum":4.36,"type":"quantitative","scale":{"domain":[-1,5]},"axis":null},"text":{"field":"t"}}},
{"data":{"values":[{"t":"L= 0.1"}]},"mark":"text","encoding":{"x":{"datum":-0.855,"type":"quantitative","scale":{"domain":[-1,3]},"axis":null},"y":{"datum":3.94,"type":"quantitative","scale":{"domain":[-1,5]},"axis":null},"text":{"field":"t"}}}
]},
{"title":"IDS vs. VGS","data":{"name":"p14"},"resolve":{"axis":{"x":"independent","y":"independent"}},"layer":[
{"mark":{"type":"line","color":"#ff1a4b","strokeWidth":1.5,"invalid":"filter"},"encoding":{"x":{"field":"x","type":"quantitative","scale":{"domain":[-1,3]},"axis":{"orient":"bottom","title":null,"values":[-1,-0.8,-0.6,-0.4,-0.2,0,0.2,0.4,0.6,0.8,1,1.2,1.4,1.6,1.8,2,2.2,2.4,2.6,2.8,3],"tickSize":{"condition":{"test":"abs(datum.value-round(datum.value))<0.01","value":-7},"value":-4}}},"y":{"field":"s","type":"quantitative","scale":{"domain":[-1,5]},"axis":{"orient":"left","title":null,"values":[-1,-0.8,-0.6,-0.4,-0.2,0,0.2,0.4,0.6,0.8,1,1.2,1.4,1.6,1.8,2,2.2,2.4,2.6,2.8,3,3.2,3.4,3.6,3.8,4,4.2,4.4,4.6,4.8,5],"tickSize":{"condition":{"test":"abs(datum.value-round(datum.value))<0.01","value":-7},"value":-4}}},"detail":{"field":"c","type":"nominal"}}},
{"mark":{"type":"line","color":"#000000","strokeWidth":1.5,"strokeDash":[6,4],"invalid":"filter"},"encoding":{"x":{"field":"x","type":"quantitative","scale":{"domain":[-1,3]},"axis":{"orient":"top","title":null,"values":[-1,-0.8,-0.6,-0.4,-0.2,0,0.2,0.4,0.6,0.8,1,1.2,1.4,1.6,1.8,2,2.2,2.4,2.6,2.8,3],"tickSize":{"condition":{"test":"abs(datum.value-round(datum.value))<0.01","value":-7},"value":-4}}},"y":{"field":"m","type":"quantitative","scale":{"domain":[-1,5]},"axis":{"orient":"right","title":null,"values":[-1,-0.8,-0.6,-0.4,-0.2,0,0.2,0.4,0.6,0.8,1,1.2,1.4,1.6,1.8,2,2.2,2.4,2.6,2.8,3,3.2,3.4,3.6,3.8,4,4.2,4.4,4.6,4.8,5],"tickSize":{"condition":{"test":"abs(datum.value-round(datum.value))<0.01","value":-7},"value":-4}}},"detail":{"field":"c","type":"nominal"}}},
{"data":{"values":[{"t":"W= 0.15"}]},"mark":"text","encoding":{"x":{"datum":-0.855,"type":"quantitative","scale":{"domain":[-1,3]},"axis":null},"y":{"datum":4.36,"type":"quantitative","scale":{"domain":[-1,5]},"axis":null},"text":{"field":"t"}}},
{"data":{"values":[{"t":"L= 0.1"}]},"mark":"text","encoding":{"x":{"datum":-0.855,"type":"quantitative","scale":{"domain":[-1,3]},"axis":null},"y":{"datum":3.94,"type":"quantitative","scale":{"domain":[-1,5]},"axis":null},"text":{"field":"t"}}}
]}
]
}
